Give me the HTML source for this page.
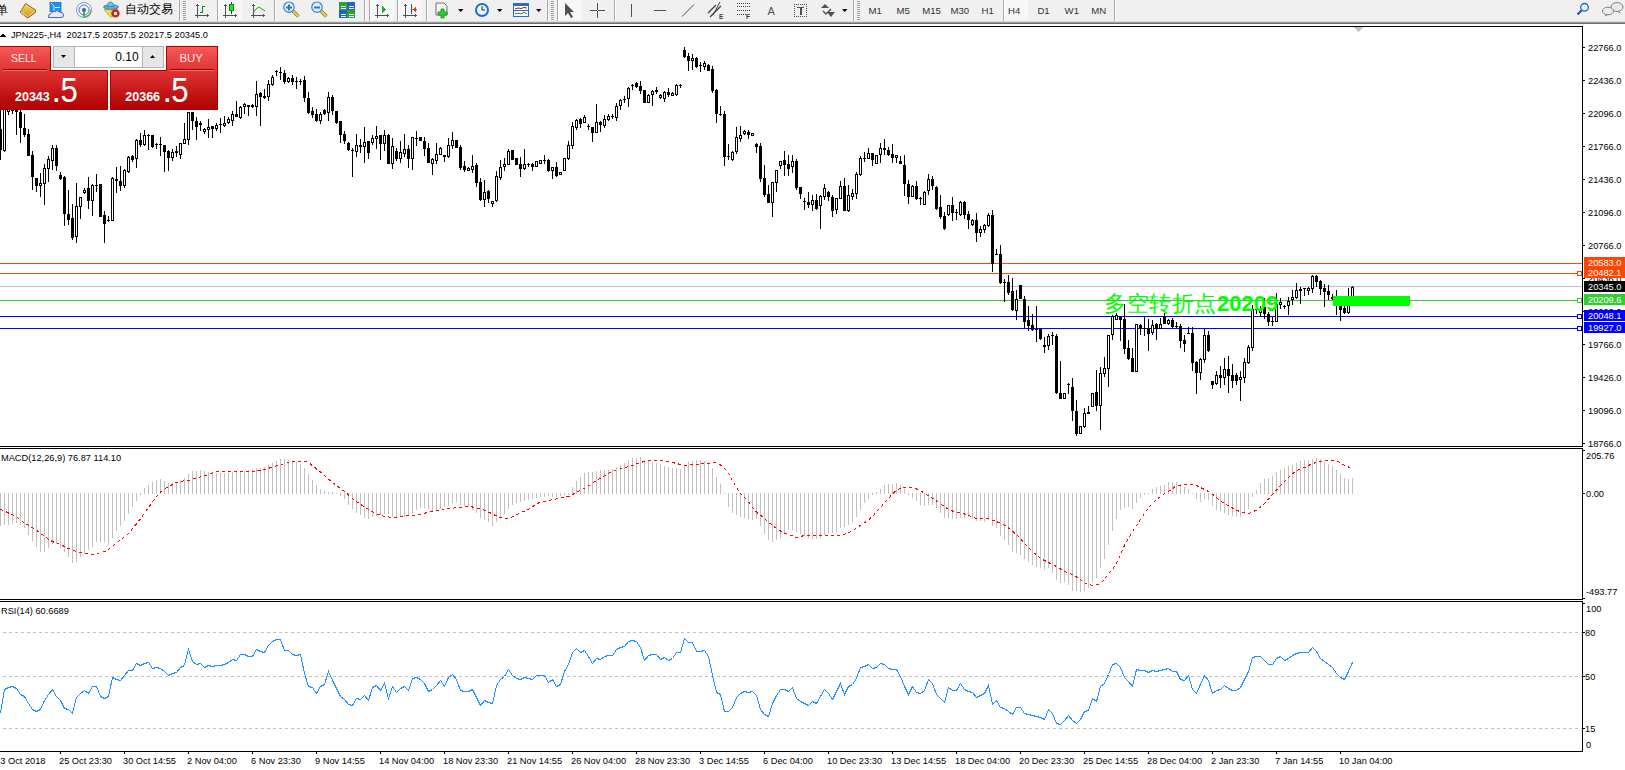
<!DOCTYPE html><html><head><meta charset="utf-8"><style>
html,body{margin:0;padding:0;width:1625px;height:770px;overflow:hidden;background:#fff;}
body{position:relative;font-family:"Liberation Sans", sans-serif;}
.t{position:absolute;white-space:nowrap;font-size:9.5px;line-height:12px;color:#000;}
#tb{position:absolute;left:0;top:0;width:1625px;height:22px;background:#f0f0f0;}
svg{position:absolute;left:0;top:0;}
</style></head><body>

<svg width="1625" height="770" shape-rendering="crispEdges"><rect x="0" y="263" width="1582" height="1" fill="#ff4500"/><rect x="0" y="273" width="1582" height="1" fill="#ff4500"/><rect x="0" y="286" width="1582" height="1" fill="#c0c0c0"/><rect x="0" y="300" width="1582" height="1" fill="#32cd32"/><rect x="0" y="316" width="1582" height="1" fill="#0000ff"/><rect x="0" y="328" width="1582" height="1" fill="#0000ff"/><rect x="0" y="105" width="1" height="55" fill="#000"/><rect x="-1" y="129" width="3" height="21" fill="#000"/><rect x="4" y="105" width="1" height="47" fill="#000"/><rect x="3" y="105" width="3" height="46" fill="#000"/><rect x="4" y="106" width="1" height="44" fill="#fff"/><rect x="8" y="105" width="1" height="10" fill="#000"/><rect x="7" y="105" width="3" height="7" fill="#000"/><rect x="8" y="106" width="1" height="5" fill="#fff"/><rect x="12" y="105" width="1" height="9" fill="#000"/><rect x="11" y="105" width="3" height="6" fill="#000"/><rect x="16" y="105" width="1" height="30" fill="#000"/><rect x="15" y="105" width="3" height="7" fill="#000"/><rect x="20" y="105" width="1" height="38" fill="#000"/><rect x="19" y="112" width="3" height="16" fill="#000"/><rect x="24" y="114" width="1" height="23" fill="#000"/><rect x="23" y="128" width="3" height="7" fill="#000"/><rect x="28" y="129" width="1" height="27" fill="#000"/><rect x="27" y="134" width="3" height="22" fill="#000"/><rect x="32" y="151" width="1" height="39" fill="#000"/><rect x="31" y="155" width="3" height="22" fill="#000"/><rect x="36" y="178" width="1" height="14" fill="#000"/><rect x="35" y="178" width="3" height="8" fill="#000"/><rect x="40" y="173" width="1" height="24" fill="#000"/><rect x="39" y="183" width="3" height="3" fill="#000"/><rect x="40" y="184" width="1" height="1" fill="#fff"/><rect x="44" y="164" width="1" height="41" fill="#000"/><rect x="43" y="168" width="3" height="16" fill="#000"/><rect x="44" y="169" width="1" height="14" fill="#fff"/><rect x="48" y="156" width="1" height="26" fill="#000"/><rect x="47" y="159" width="3" height="10" fill="#000"/><rect x="48" y="160" width="1" height="8" fill="#fff"/><rect x="52" y="145" width="1" height="25" fill="#000"/><rect x="51" y="148" width="3" height="13" fill="#000"/><rect x="52" y="149" width="1" height="11" fill="#fff"/><rect x="56" y="145" width="1" height="26" fill="#000"/><rect x="55" y="148" width="3" height="18" fill="#000"/><rect x="60" y="172" width="1" height="8" fill="#000"/><rect x="59" y="175" width="3" height="4" fill="#000"/><rect x="64" y="176" width="1" height="50" fill="#000"/><rect x="63" y="177" width="3" height="37" fill="#000"/><rect x="68" y="190" width="1" height="35" fill="#000"/><rect x="67" y="214" width="3" height="6" fill="#000"/><rect x="72" y="204" width="1" height="36" fill="#000"/><rect x="71" y="218" width="3" height="20" fill="#000"/><rect x="76" y="183" width="1" height="60" fill="#000"/><rect x="75" y="206" width="3" height="31" fill="#000"/><rect x="76" y="207" width="1" height="29" fill="#fff"/><rect x="80" y="197" width="1" height="22" fill="#000"/><rect x="79" y="197" width="3" height="10" fill="#000"/><rect x="80" y="198" width="1" height="8" fill="#fff"/><rect x="84" y="188" width="1" height="6" fill="#000"/><rect x="83" y="190" width="3" height="3" fill="#000"/><rect x="84" y="191" width="1" height="1" fill="#fff"/><rect x="88" y="177" width="1" height="32" fill="#000"/><rect x="87" y="188" width="3" height="13" fill="#000"/><rect x="92" y="184" width="1" height="32" fill="#000"/><rect x="91" y="185" width="3" height="16" fill="#000"/><rect x="92" y="186" width="1" height="14" fill="#fff"/><rect x="96" y="174" width="1" height="18" fill="#000"/><rect x="95" y="185" width="3" height="1" fill="#000"/><rect x="100" y="184" width="1" height="33" fill="#000"/><rect x="99" y="184" width="3" height="33" fill="#000"/><rect x="104" y="211" width="1" height="32" fill="#000"/><rect x="103" y="215" width="3" height="9" fill="#000"/><rect x="108" y="216" width="1" height="6" fill="#000"/><rect x="107" y="220" width="3" height="1" fill="#000"/><rect x="112" y="177" width="1" height="44" fill="#000"/><rect x="111" y="178" width="3" height="43" fill="#000"/><rect x="112" y="179" width="1" height="41" fill="#fff"/><rect x="116" y="167" width="1" height="26" fill="#000"/><rect x="115" y="179" width="3" height="2" fill="#000"/><rect x="120" y="166" width="1" height="25" fill="#000"/><rect x="119" y="181" width="3" height="5" fill="#000"/><rect x="124" y="169" width="1" height="19" fill="#000"/><rect x="123" y="170" width="3" height="16" fill="#000"/><rect x="124" y="171" width="1" height="14" fill="#fff"/><rect x="128" y="156" width="1" height="17" fill="#000"/><rect x="127" y="157" width="3" height="15" fill="#000"/><rect x="128" y="158" width="1" height="13" fill="#fff"/><rect x="132" y="155" width="1" height="7" fill="#000"/><rect x="131" y="156" width="3" height="4" fill="#000"/><rect x="136" y="139" width="1" height="29" fill="#000"/><rect x="135" y="140" width="3" height="19" fill="#000"/><rect x="136" y="141" width="1" height="17" fill="#fff"/><rect x="140" y="133" width="1" height="14" fill="#000"/><rect x="139" y="140" width="3" height="5" fill="#000"/><rect x="144" y="130" width="1" height="16" fill="#000"/><rect x="143" y="135" width="3" height="10" fill="#000"/><rect x="144" y="136" width="1" height="8" fill="#fff"/><rect x="148" y="134" width="1" height="16" fill="#000"/><rect x="147" y="135" width="3" height="1" fill="#000"/><rect x="152" y="135" width="1" height="13" fill="#000"/><rect x="151" y="135" width="3" height="12" fill="#000"/><rect x="156" y="143" width="1" height="6" fill="#000"/><rect x="155" y="144" width="3" height="1" fill="#000"/><rect x="160" y="137" width="1" height="19" fill="#000"/><rect x="159" y="144" width="3" height="1" fill="#000"/><rect x="164" y="145" width="1" height="27" fill="#000"/><rect x="163" y="145" width="3" height="7" fill="#000"/><rect x="168" y="150" width="1" height="21" fill="#000"/><rect x="167" y="151" width="3" height="7" fill="#000"/><rect x="172" y="149" width="1" height="12" fill="#000"/><rect x="171" y="152" width="3" height="6" fill="#000"/><rect x="172" y="153" width="1" height="4" fill="#fff"/><rect x="176" y="146" width="1" height="11" fill="#000"/><rect x="175" y="151" width="3" height="2" fill="#000"/><rect x="180" y="143" width="1" height="16" fill="#000"/><rect x="179" y="143" width="3" height="12" fill="#000"/><rect x="180" y="144" width="1" height="10" fill="#fff"/><rect x="184" y="123" width="1" height="21" fill="#000"/><rect x="183" y="139" width="3" height="5" fill="#000"/><rect x="184" y="140" width="1" height="3" fill="#fff"/><rect x="188" y="112" width="1" height="33" fill="#000"/><rect x="187" y="112" width="3" height="28" fill="#000"/><rect x="188" y="113" width="1" height="26" fill="#fff"/><rect x="192" y="112" width="1" height="18" fill="#000"/><rect x="191" y="112" width="3" height="9" fill="#000"/><rect x="196" y="117" width="1" height="23" fill="#000"/><rect x="195" y="121" width="3" height="6" fill="#000"/><rect x="200" y="121" width="1" height="10" fill="#000"/><rect x="199" y="123" width="3" height="2" fill="#000"/><rect x="204" y="128" width="1" height="6" fill="#000"/><rect x="203" y="129" width="3" height="3" fill="#000"/><rect x="204" y="130" width="1" height="1" fill="#fff"/><rect x="208" y="119" width="1" height="19" fill="#000"/><rect x="207" y="127" width="3" height="3" fill="#000"/><rect x="208" y="128" width="1" height="1" fill="#fff"/><rect x="212" y="126" width="1" height="12" fill="#000"/><rect x="211" y="126" width="3" height="3" fill="#000"/><rect x="216" y="123" width="1" height="8" fill="#000"/><rect x="215" y="125" width="3" height="4" fill="#000"/><rect x="216" y="126" width="1" height="2" fill="#fff"/><rect x="220" y="118" width="1" height="15" fill="#000"/><rect x="219" y="124" width="3" height="1" fill="#000"/><rect x="224" y="116" width="1" height="11" fill="#000"/><rect x="223" y="123" width="3" height="3" fill="#000"/><rect x="224" y="124" width="1" height="1" fill="#fff"/><rect x="228" y="117" width="1" height="7" fill="#000"/><rect x="227" y="119" width="3" height="4" fill="#000"/><rect x="228" y="120" width="1" height="2" fill="#fff"/><rect x="232" y="111" width="1" height="15" fill="#000"/><rect x="231" y="114" width="3" height="7" fill="#000"/><rect x="232" y="115" width="1" height="5" fill="#fff"/><rect x="236" y="101" width="1" height="16" fill="#000"/><rect x="235" y="114" width="3" height="3" fill="#000"/><rect x="240" y="106" width="1" height="13" fill="#000"/><rect x="239" y="107" width="3" height="11" fill="#000"/><rect x="240" y="108" width="1" height="9" fill="#fff"/><rect x="244" y="103" width="1" height="11" fill="#000"/><rect x="243" y="104" width="3" height="3" fill="#000"/><rect x="244" y="105" width="1" height="1" fill="#fff"/><rect x="248" y="105" width="1" height="11" fill="#000"/><rect x="247" y="105" width="3" height="2" fill="#000"/><rect x="252" y="104" width="1" height="4" fill="#000"/><rect x="251" y="105" width="3" height="2" fill="#000"/><rect x="256" y="81" width="1" height="35" fill="#000"/><rect x="255" y="94" width="3" height="13" fill="#000"/><rect x="256" y="95" width="1" height="11" fill="#fff"/><rect x="260" y="92" width="1" height="34" fill="#000"/><rect x="259" y="93" width="3" height="4" fill="#000"/><rect x="264" y="89" width="1" height="10" fill="#000"/><rect x="263" y="96" width="3" height="2" fill="#000"/><rect x="268" y="80" width="1" height="21" fill="#000"/><rect x="267" y="84" width="3" height="13" fill="#000"/><rect x="268" y="85" width="1" height="11" fill="#fff"/><rect x="272" y="75" width="1" height="11" fill="#000"/><rect x="271" y="77" width="3" height="8" fill="#000"/><rect x="272" y="78" width="1" height="6" fill="#fff"/><rect x="276" y="70" width="1" height="6" fill="#000"/><rect x="275" y="71" width="3" height="1" fill="#000"/><rect x="280" y="67" width="1" height="13" fill="#000"/><rect x="279" y="72" width="3" height="1" fill="#000"/><rect x="284" y="70" width="1" height="14" fill="#000"/><rect x="283" y="73" width="3" height="9" fill="#000"/><rect x="288" y="77" width="1" height="6" fill="#000"/><rect x="287" y="78" width="3" height="4" fill="#000"/><rect x="288" y="79" width="1" height="2" fill="#fff"/><rect x="292" y="75" width="1" height="10" fill="#000"/><rect x="291" y="78" width="3" height="4" fill="#000"/><rect x="296" y="77" width="1" height="12" fill="#000"/><rect x="295" y="81" width="3" height="1" fill="#000"/><rect x="300" y="79" width="1" height="6" fill="#000"/><rect x="299" y="81" width="3" height="1" fill="#000"/><rect x="304" y="76" width="1" height="26" fill="#000"/><rect x="303" y="80" width="3" height="18" fill="#000"/><rect x="308" y="92" width="1" height="22" fill="#000"/><rect x="307" y="98" width="3" height="15" fill="#000"/><rect x="312" y="107" width="1" height="11" fill="#000"/><rect x="311" y="111" width="3" height="4" fill="#000"/><rect x="316" y="109" width="1" height="13" fill="#000"/><rect x="315" y="114" width="3" height="7" fill="#000"/><rect x="320" y="112" width="1" height="12" fill="#000"/><rect x="319" y="114" width="3" height="7" fill="#000"/><rect x="320" y="115" width="1" height="5" fill="#fff"/><rect x="324" y="109" width="1" height="6" fill="#000"/><rect x="323" y="110" width="3" height="4" fill="#000"/><rect x="328" y="92" width="1" height="29" fill="#000"/><rect x="327" y="97" width="3" height="16" fill="#000"/><rect x="328" y="98" width="1" height="14" fill="#fff"/><rect x="332" y="95" width="1" height="20" fill="#000"/><rect x="331" y="97" width="3" height="14" fill="#000"/><rect x="336" y="111" width="1" height="13" fill="#000"/><rect x="335" y="111" width="3" height="12" fill="#000"/><rect x="340" y="121" width="1" height="22" fill="#000"/><rect x="339" y="121" width="3" height="14" fill="#000"/><rect x="344" y="131" width="1" height="13" fill="#000"/><rect x="343" y="134" width="3" height="7" fill="#000"/><rect x="348" y="142" width="1" height="9" fill="#000"/><rect x="347" y="143" width="3" height="7" fill="#000"/><rect x="352" y="148" width="1" height="29" fill="#000"/><rect x="351" y="150" width="3" height="1" fill="#000"/><rect x="356" y="134" width="1" height="23" fill="#000"/><rect x="355" y="145" width="3" height="7" fill="#000"/><rect x="356" y="146" width="1" height="5" fill="#fff"/><rect x="360" y="139" width="1" height="14" fill="#000"/><rect x="359" y="145" width="3" height="2" fill="#000"/><rect x="364" y="127" width="1" height="36" fill="#000"/><rect x="363" y="142" width="3" height="5" fill="#000"/><rect x="364" y="143" width="1" height="3" fill="#fff"/><rect x="368" y="141" width="1" height="18" fill="#000"/><rect x="367" y="141" width="3" height="12" fill="#000"/><rect x="372" y="135" width="1" height="10" fill="#000"/><rect x="371" y="138" width="3" height="5" fill="#000"/><rect x="372" y="139" width="1" height="3" fill="#fff"/><rect x="376" y="126" width="1" height="23" fill="#000"/><rect x="375" y="136" width="3" height="3" fill="#000"/><rect x="376" y="137" width="1" height="1" fill="#fff"/><rect x="380" y="135" width="1" height="25" fill="#000"/><rect x="379" y="135" width="3" height="9" fill="#000"/><rect x="384" y="130" width="1" height="21" fill="#000"/><rect x="383" y="135" width="3" height="9" fill="#000"/><rect x="384" y="136" width="1" height="7" fill="#fff"/><rect x="388" y="134" width="1" height="30" fill="#000"/><rect x="387" y="135" width="3" height="29" fill="#000"/><rect x="392" y="138" width="1" height="31" fill="#000"/><rect x="391" y="146" width="3" height="18" fill="#000"/><rect x="392" y="147" width="1" height="16" fill="#fff"/><rect x="396" y="148" width="1" height="13" fill="#000"/><rect x="395" y="151" width="3" height="8" fill="#000"/><rect x="400" y="141" width="1" height="22" fill="#000"/><rect x="399" y="152" width="3" height="7" fill="#000"/><rect x="400" y="153" width="1" height="5" fill="#fff"/><rect x="404" y="134" width="1" height="23" fill="#000"/><rect x="403" y="149" width="3" height="5" fill="#000"/><rect x="404" y="150" width="1" height="3" fill="#fff"/><rect x="408" y="145" width="1" height="23" fill="#000"/><rect x="407" y="149" width="3" height="10" fill="#000"/><rect x="412" y="137" width="1" height="33" fill="#000"/><rect x="411" y="137" width="3" height="22" fill="#000"/><rect x="412" y="138" width="1" height="20" fill="#fff"/><rect x="416" y="131" width="1" height="15" fill="#000"/><rect x="415" y="138" width="3" height="1" fill="#000"/><rect x="420" y="137" width="1" height="4" fill="#000"/><rect x="419" y="137" width="3" height="4" fill="#000"/><rect x="424" y="137" width="1" height="19" fill="#000"/><rect x="423" y="141" width="3" height="8" fill="#000"/><rect x="428" y="143" width="1" height="20" fill="#000"/><rect x="427" y="148" width="3" height="15" fill="#000"/><rect x="432" y="158" width="1" height="17" fill="#000"/><rect x="431" y="159" width="3" height="5" fill="#000"/><rect x="432" y="160" width="1" height="3" fill="#fff"/><rect x="436" y="143" width="1" height="21" fill="#000"/><rect x="435" y="154" width="3" height="7" fill="#000"/><rect x="436" y="155" width="1" height="5" fill="#fff"/><rect x="440" y="147" width="1" height="8" fill="#000"/><rect x="439" y="148" width="3" height="7" fill="#000"/><rect x="440" y="149" width="1" height="5" fill="#fff"/><rect x="444" y="155" width="1" height="7" fill="#000"/><rect x="443" y="155" width="3" height="2" fill="#000"/><rect x="448" y="138" width="1" height="20" fill="#000"/><rect x="447" y="145" width="3" height="12" fill="#000"/><rect x="448" y="146" width="1" height="10" fill="#fff"/><rect x="452" y="132" width="1" height="17" fill="#000"/><rect x="451" y="140" width="3" height="6" fill="#000"/><rect x="452" y="141" width="1" height="4" fill="#fff"/><rect x="456" y="140" width="1" height="8" fill="#000"/><rect x="455" y="140" width="3" height="8" fill="#000"/><rect x="460" y="145" width="1" height="25" fill="#000"/><rect x="459" y="147" width="3" height="21" fill="#000"/><rect x="464" y="161" width="1" height="11" fill="#000"/><rect x="463" y="166" width="3" height="4" fill="#000"/><rect x="468" y="167" width="1" height="4" fill="#000"/><rect x="467" y="168" width="3" height="3" fill="#000"/><rect x="468" y="169" width="1" height="1" fill="#fff"/><rect x="472" y="155" width="1" height="18" fill="#000"/><rect x="471" y="166" width="3" height="4" fill="#000"/><rect x="472" y="167" width="1" height="2" fill="#fff"/><rect x="476" y="163" width="1" height="24" fill="#000"/><rect x="475" y="165" width="3" height="18" fill="#000"/><rect x="480" y="178" width="1" height="23" fill="#000"/><rect x="479" y="182" width="3" height="18" fill="#000"/><rect x="484" y="180" width="1" height="27" fill="#000"/><rect x="483" y="192" width="3" height="8" fill="#000"/><rect x="484" y="193" width="1" height="6" fill="#fff"/><rect x="488" y="190" width="1" height="13" fill="#000"/><rect x="487" y="191" width="3" height="8" fill="#000"/><rect x="492" y="201" width="1" height="6" fill="#000"/><rect x="491" y="201" width="3" height="3" fill="#000"/><rect x="492" y="202" width="1" height="1" fill="#fff"/><rect x="496" y="171" width="1" height="31" fill="#000"/><rect x="495" y="176" width="3" height="25" fill="#000"/><rect x="496" y="177" width="1" height="23" fill="#fff"/><rect x="500" y="160" width="1" height="20" fill="#000"/><rect x="499" y="167" width="3" height="11" fill="#000"/><rect x="500" y="168" width="1" height="9" fill="#fff"/><rect x="504" y="158" width="1" height="13" fill="#000"/><rect x="503" y="164" width="3" height="3" fill="#000"/><rect x="504" y="165" width="1" height="1" fill="#fff"/><rect x="508" y="149" width="1" height="16" fill="#000"/><rect x="507" y="151" width="3" height="14" fill="#000"/><rect x="508" y="152" width="1" height="12" fill="#fff"/><rect x="512" y="150" width="1" height="10" fill="#000"/><rect x="511" y="150" width="3" height="10" fill="#000"/><rect x="516" y="158" width="1" height="7" fill="#000"/><rect x="515" y="158" width="3" height="7" fill="#000"/><rect x="520" y="157" width="1" height="20" fill="#000"/><rect x="519" y="164" width="3" height="5" fill="#000"/><rect x="524" y="149" width="1" height="21" fill="#000"/><rect x="523" y="164" width="3" height="5" fill="#000"/><rect x="524" y="165" width="1" height="3" fill="#fff"/><rect x="528" y="163" width="1" height="4" fill="#000"/><rect x="527" y="164" width="3" height="1" fill="#000"/><rect x="532" y="163" width="1" height="8" fill="#000"/><rect x="531" y="164" width="3" height="3" fill="#000"/><rect x="536" y="161" width="1" height="6" fill="#000"/><rect x="535" y="161" width="3" height="6" fill="#000"/><rect x="536" y="162" width="1" height="4" fill="#fff"/><rect x="540" y="160" width="1" height="4" fill="#000"/><rect x="539" y="160" width="3" height="4" fill="#000"/><rect x="540" y="161" width="1" height="2" fill="#fff"/><rect x="544" y="155" width="1" height="9" fill="#000"/><rect x="543" y="160" width="3" height="1" fill="#000"/><rect x="548" y="159" width="1" height="13" fill="#000"/><rect x="547" y="160" width="3" height="11" fill="#000"/><rect x="552" y="167" width="1" height="12" fill="#000"/><rect x="551" y="167" width="3" height="4" fill="#000"/><rect x="552" y="168" width="1" height="2" fill="#fff"/><rect x="556" y="162" width="1" height="15" fill="#000"/><rect x="555" y="167" width="3" height="9" fill="#000"/><rect x="560" y="172" width="1" height="3" fill="#000"/><rect x="559" y="172" width="3" height="3" fill="#000"/><rect x="560" y="173" width="1" height="1" fill="#fff"/><rect x="564" y="158" width="1" height="13" fill="#000"/><rect x="563" y="158" width="3" height="13" fill="#000"/><rect x="564" y="159" width="1" height="11" fill="#fff"/><rect x="568" y="141" width="1" height="19" fill="#000"/><rect x="567" y="145" width="3" height="14" fill="#000"/><rect x="568" y="146" width="1" height="12" fill="#fff"/><rect x="572" y="122" width="1" height="27" fill="#000"/><rect x="571" y="126" width="3" height="20" fill="#000"/><rect x="572" y="127" width="1" height="18" fill="#fff"/><rect x="576" y="119" width="1" height="11" fill="#000"/><rect x="575" y="120" width="3" height="8" fill="#000"/><rect x="576" y="121" width="1" height="6" fill="#fff"/><rect x="580" y="118" width="1" height="10" fill="#000"/><rect x="579" y="119" width="3" height="5" fill="#000"/><rect x="584" y="115" width="1" height="8" fill="#000"/><rect x="583" y="117" width="3" height="6" fill="#000"/><rect x="584" y="118" width="1" height="4" fill="#fff"/><rect x="588" y="124" width="1" height="6" fill="#000"/><rect x="587" y="126" width="3" height="1" fill="#000"/><rect x="592" y="127" width="1" height="15" fill="#000"/><rect x="591" y="127" width="3" height="6" fill="#000"/><rect x="596" y="104" width="1" height="29" fill="#000"/><rect x="595" y="122" width="3" height="11" fill="#000"/><rect x="596" y="123" width="1" height="9" fill="#fff"/><rect x="600" y="121" width="1" height="11" fill="#000"/><rect x="599" y="122" width="3" height="3" fill="#000"/><rect x="604" y="115" width="1" height="13" fill="#000"/><rect x="603" y="119" width="3" height="7" fill="#000"/><rect x="604" y="120" width="1" height="5" fill="#fff"/><rect x="608" y="114" width="1" height="7" fill="#000"/><rect x="607" y="116" width="3" height="4" fill="#000"/><rect x="608" y="117" width="1" height="2" fill="#fff"/><rect x="612" y="114" width="1" height="5" fill="#000"/><rect x="611" y="116" width="3" height="1" fill="#000"/><rect x="616" y="103" width="1" height="18" fill="#000"/><rect x="615" y="106" width="3" height="12" fill="#000"/><rect x="616" y="107" width="1" height="10" fill="#fff"/><rect x="620" y="99" width="1" height="11" fill="#000"/><rect x="619" y="100" width="3" height="6" fill="#000"/><rect x="620" y="101" width="1" height="4" fill="#fff"/><rect x="624" y="96" width="1" height="7" fill="#000"/><rect x="623" y="99" width="3" height="1" fill="#000"/><rect x="628" y="87" width="1" height="20" fill="#000"/><rect x="627" y="88" width="3" height="11" fill="#000"/><rect x="628" y="89" width="1" height="9" fill="#fff"/><rect x="632" y="84" width="1" height="6" fill="#000"/><rect x="631" y="85" width="3" height="1" fill="#000"/><rect x="636" y="82" width="1" height="6" fill="#000"/><rect x="635" y="83" width="3" height="4" fill="#000"/><rect x="640" y="81" width="1" height="13" fill="#000"/><rect x="639" y="86" width="3" height="5" fill="#000"/><rect x="644" y="90" width="1" height="13" fill="#000"/><rect x="643" y="90" width="3" height="13" fill="#000"/><rect x="648" y="94" width="1" height="9" fill="#000"/><rect x="647" y="95" width="3" height="8" fill="#000"/><rect x="648" y="96" width="1" height="6" fill="#fff"/><rect x="652" y="90" width="1" height="16" fill="#000"/><rect x="651" y="91" width="3" height="4" fill="#000"/><rect x="652" y="92" width="1" height="2" fill="#fff"/><rect x="656" y="87" width="1" height="7" fill="#000"/><rect x="655" y="90" width="3" height="2" fill="#000"/><rect x="660" y="94" width="1" height="5" fill="#000"/><rect x="659" y="95" width="3" height="3" fill="#000"/><rect x="660" y="96" width="1" height="1" fill="#fff"/><rect x="664" y="91" width="1" height="11" fill="#000"/><rect x="663" y="92" width="3" height="7" fill="#000"/><rect x="664" y="93" width="1" height="5" fill="#fff"/><rect x="668" y="88" width="1" height="9" fill="#000"/><rect x="667" y="92" width="3" height="3" fill="#000"/><rect x="672" y="92" width="1" height="4" fill="#000"/><rect x="671" y="93" width="3" height="3" fill="#000"/><rect x="672" y="94" width="1" height="1" fill="#fff"/><rect x="676" y="84" width="1" height="12" fill="#000"/><rect x="675" y="85" width="3" height="10" fill="#000"/><rect x="676" y="86" width="1" height="8" fill="#fff"/><rect x="680" y="84" width="1" height="4" fill="#000"/><rect x="679" y="85" width="3" height="1" fill="#000"/><rect x="684" y="47" width="1" height="11" fill="#000"/><rect x="683" y="50" width="3" height="7" fill="#000"/><rect x="688" y="53" width="1" height="18" fill="#000"/><rect x="687" y="56" width="3" height="5" fill="#000"/><rect x="692" y="54" width="1" height="16" fill="#000"/><rect x="691" y="58" width="3" height="3" fill="#000"/><rect x="692" y="59" width="1" height="1" fill="#fff"/><rect x="696" y="57" width="1" height="11" fill="#000"/><rect x="695" y="58" width="3" height="9" fill="#000"/><rect x="700" y="62" width="1" height="10" fill="#000"/><rect x="699" y="65" width="3" height="1" fill="#000"/><rect x="704" y="61" width="1" height="9" fill="#000"/><rect x="703" y="63" width="3" height="4" fill="#000"/><rect x="704" y="64" width="1" height="2" fill="#fff"/><rect x="708" y="64" width="1" height="7" fill="#000"/><rect x="707" y="65" width="3" height="6" fill="#000"/><rect x="712" y="66" width="1" height="27" fill="#000"/><rect x="711" y="69" width="3" height="22" fill="#000"/><rect x="716" y="89" width="1" height="34" fill="#000"/><rect x="715" y="90" width="3" height="24" fill="#000"/><rect x="720" y="106" width="1" height="10" fill="#000"/><rect x="719" y="114" width="3" height="1" fill="#000"/><rect x="724" y="111" width="1" height="55" fill="#000"/><rect x="723" y="114" width="3" height="43" fill="#000"/><rect x="728" y="144" width="1" height="16" fill="#000"/><rect x="727" y="156" width="3" height="1" fill="#000"/><rect x="732" y="151" width="1" height="10" fill="#000"/><rect x="731" y="152" width="3" height="8" fill="#000"/><rect x="732" y="153" width="1" height="6" fill="#fff"/><rect x="736" y="127" width="1" height="27" fill="#000"/><rect x="735" y="137" width="3" height="15" fill="#000"/><rect x="736" y="138" width="1" height="13" fill="#fff"/><rect x="740" y="126" width="1" height="16" fill="#000"/><rect x="739" y="135" width="3" height="4" fill="#000"/><rect x="740" y="136" width="1" height="2" fill="#fff"/><rect x="744" y="130" width="1" height="5" fill="#000"/><rect x="743" y="131" width="3" height="3" fill="#000"/><rect x="744" y="132" width="1" height="1" fill="#fff"/><rect x="748" y="130" width="1" height="9" fill="#000"/><rect x="747" y="132" width="3" height="3" fill="#000"/><rect x="752" y="133" width="1" height="3" fill="#000"/><rect x="751" y="133" width="3" height="3" fill="#000"/><rect x="752" y="134" width="1" height="1" fill="#fff"/><rect x="756" y="143" width="1" height="10" fill="#000"/><rect x="755" y="144" width="3" height="3" fill="#000"/><rect x="760" y="143" width="1" height="39" fill="#000"/><rect x="759" y="146" width="3" height="33" fill="#000"/><rect x="764" y="165" width="1" height="32" fill="#000"/><rect x="763" y="178" width="3" height="17" fill="#000"/><rect x="768" y="185" width="1" height="18" fill="#000"/><rect x="767" y="194" width="3" height="9" fill="#000"/><rect x="772" y="182" width="1" height="35" fill="#000"/><rect x="771" y="182" width="3" height="21" fill="#000"/><rect x="772" y="183" width="1" height="19" fill="#fff"/><rect x="776" y="170" width="1" height="22" fill="#000"/><rect x="775" y="170" width="3" height="13" fill="#000"/><rect x="776" y="171" width="1" height="11" fill="#fff"/><rect x="780" y="161" width="1" height="8" fill="#000"/><rect x="779" y="161" width="3" height="5" fill="#000"/><rect x="780" y="162" width="1" height="3" fill="#fff"/><rect x="784" y="151" width="1" height="25" fill="#000"/><rect x="783" y="160" width="3" height="5" fill="#000"/><rect x="788" y="155" width="1" height="21" fill="#000"/><rect x="787" y="164" width="3" height="5" fill="#000"/><rect x="792" y="155" width="1" height="18" fill="#000"/><rect x="791" y="161" width="3" height="6" fill="#000"/><rect x="792" y="162" width="1" height="4" fill="#fff"/><rect x="796" y="159" width="1" height="31" fill="#000"/><rect x="795" y="161" width="3" height="27" fill="#000"/><rect x="800" y="187" width="1" height="12" fill="#000"/><rect x="799" y="187" width="3" height="7" fill="#000"/><rect x="804" y="198" width="1" height="12" fill="#000"/><rect x="803" y="201" width="3" height="1" fill="#000"/><rect x="808" y="192" width="1" height="16" fill="#000"/><rect x="807" y="202" width="3" height="3" fill="#000"/><rect x="812" y="195" width="1" height="16" fill="#000"/><rect x="811" y="200" width="3" height="5" fill="#000"/><rect x="812" y="201" width="1" height="3" fill="#fff"/><rect x="816" y="194" width="1" height="16" fill="#000"/><rect x="815" y="200" width="3" height="9" fill="#000"/><rect x="820" y="195" width="1" height="34" fill="#000"/><rect x="819" y="196" width="3" height="10" fill="#000"/><rect x="820" y="197" width="1" height="8" fill="#fff"/><rect x="824" y="184" width="1" height="16" fill="#000"/><rect x="823" y="188" width="3" height="9" fill="#000"/><rect x="824" y="189" width="1" height="7" fill="#fff"/><rect x="828" y="191" width="1" height="10" fill="#000"/><rect x="827" y="192" width="3" height="5" fill="#000"/><rect x="832" y="195" width="1" height="22" fill="#000"/><rect x="831" y="197" width="3" height="14" fill="#000"/><rect x="836" y="198" width="1" height="16" fill="#000"/><rect x="835" y="198" width="3" height="12" fill="#000"/><rect x="836" y="199" width="1" height="10" fill="#fff"/><rect x="840" y="181" width="1" height="18" fill="#000"/><rect x="839" y="186" width="3" height="13" fill="#000"/><rect x="840" y="187" width="1" height="11" fill="#fff"/><rect x="844" y="178" width="1" height="33" fill="#000"/><rect x="843" y="186" width="3" height="25" fill="#000"/><rect x="848" y="185" width="1" height="27" fill="#000"/><rect x="847" y="195" width="3" height="16" fill="#000"/><rect x="848" y="196" width="1" height="14" fill="#fff"/><rect x="852" y="189" width="1" height="11" fill="#000"/><rect x="851" y="193" width="3" height="4" fill="#000"/><rect x="852" y="194" width="1" height="2" fill="#fff"/><rect x="856" y="172" width="1" height="27" fill="#000"/><rect x="855" y="174" width="3" height="20" fill="#000"/><rect x="856" y="175" width="1" height="18" fill="#fff"/><rect x="860" y="156" width="1" height="20" fill="#000"/><rect x="859" y="158" width="3" height="17" fill="#000"/><rect x="860" y="159" width="1" height="15" fill="#fff"/><rect x="864" y="152" width="1" height="10" fill="#000"/><rect x="863" y="158" width="3" height="1" fill="#000"/><rect x="868" y="148" width="1" height="11" fill="#000"/><rect x="867" y="153" width="3" height="6" fill="#000"/><rect x="868" y="154" width="1" height="4" fill="#fff"/><rect x="872" y="153" width="1" height="13" fill="#000"/><rect x="871" y="153" width="3" height="7" fill="#000"/><rect x="876" y="155" width="1" height="9" fill="#000"/><rect x="875" y="155" width="3" height="9" fill="#000"/><rect x="876" y="156" width="1" height="7" fill="#fff"/><rect x="880" y="143" width="1" height="20" fill="#000"/><rect x="879" y="148" width="3" height="7" fill="#000"/><rect x="880" y="149" width="1" height="5" fill="#fff"/><rect x="884" y="139" width="1" height="16" fill="#000"/><rect x="883" y="148" width="3" height="2" fill="#000"/><rect x="888" y="147" width="1" height="9" fill="#000"/><rect x="887" y="150" width="3" height="5" fill="#000"/><rect x="892" y="144" width="1" height="19" fill="#000"/><rect x="891" y="154" width="3" height="4" fill="#000"/><rect x="896" y="155" width="1" height="8" fill="#000"/><rect x="895" y="155" width="3" height="3" fill="#000"/><rect x="896" y="156" width="1" height="1" fill="#fff"/><rect x="900" y="156" width="1" height="8" fill="#000"/><rect x="899" y="161" width="3" height="3" fill="#000"/><rect x="904" y="155" width="1" height="41" fill="#000"/><rect x="903" y="165" width="3" height="19" fill="#000"/><rect x="908" y="180" width="1" height="24" fill="#000"/><rect x="907" y="184" width="3" height="13" fill="#000"/><rect x="912" y="185" width="1" height="12" fill="#000"/><rect x="911" y="186" width="3" height="11" fill="#000"/><rect x="912" y="187" width="1" height="9" fill="#fff"/><rect x="916" y="181" width="1" height="19" fill="#000"/><rect x="915" y="186" width="3" height="13" fill="#000"/><rect x="920" y="197" width="1" height="8" fill="#000"/><rect x="919" y="198" width="3" height="1" fill="#000"/><rect x="924" y="191" width="1" height="14" fill="#000"/><rect x="923" y="192" width="3" height="13" fill="#000"/><rect x="924" y="193" width="1" height="11" fill="#fff"/><rect x="928" y="174" width="1" height="21" fill="#000"/><rect x="927" y="179" width="3" height="12" fill="#000"/><rect x="928" y="180" width="1" height="10" fill="#fff"/><rect x="932" y="176" width="1" height="14" fill="#000"/><rect x="931" y="179" width="3" height="7" fill="#000"/><rect x="936" y="186" width="1" height="24" fill="#000"/><rect x="935" y="187" width="3" height="22" fill="#000"/><rect x="940" y="195" width="1" height="24" fill="#000"/><rect x="939" y="207" width="3" height="10" fill="#000"/><rect x="944" y="212" width="1" height="18" fill="#000"/><rect x="943" y="216" width="3" height="13" fill="#000"/><rect x="948" y="205" width="1" height="11" fill="#000"/><rect x="947" y="205" width="3" height="10" fill="#000"/><rect x="948" y="206" width="1" height="8" fill="#fff"/><rect x="952" y="197" width="1" height="24" fill="#000"/><rect x="951" y="205" width="3" height="8" fill="#000"/><rect x="956" y="209" width="1" height="11" fill="#000"/><rect x="955" y="212" width="3" height="1" fill="#000"/><rect x="960" y="201" width="1" height="15" fill="#000"/><rect x="959" y="202" width="3" height="13" fill="#000"/><rect x="960" y="203" width="1" height="11" fill="#fff"/><rect x="964" y="201" width="1" height="18" fill="#000"/><rect x="963" y="202" width="3" height="13" fill="#000"/><rect x="968" y="211" width="1" height="18" fill="#000"/><rect x="967" y="214" width="3" height="6" fill="#000"/><rect x="972" y="219" width="1" height="7" fill="#000"/><rect x="971" y="220" width="3" height="5" fill="#000"/><rect x="972" y="221" width="1" height="3" fill="#fff"/><rect x="976" y="213" width="1" height="29" fill="#000"/><rect x="975" y="220" width="3" height="13" fill="#000"/><rect x="980" y="226" width="1" height="11" fill="#000"/><rect x="979" y="229" width="3" height="4" fill="#000"/><rect x="980" y="230" width="1" height="2" fill="#fff"/><rect x="984" y="224" width="1" height="9" fill="#000"/><rect x="983" y="225" width="3" height="5" fill="#000"/><rect x="984" y="226" width="1" height="3" fill="#fff"/><rect x="988" y="213" width="1" height="14" fill="#000"/><rect x="987" y="215" width="3" height="11" fill="#000"/><rect x="988" y="216" width="1" height="9" fill="#fff"/><rect x="992" y="210" width="1" height="62" fill="#000"/><rect x="991" y="215" width="3" height="49" fill="#000"/><rect x="996" y="249" width="1" height="6" fill="#000"/><rect x="995" y="254" width="3" height="1" fill="#000"/><rect x="1000" y="245" width="1" height="39" fill="#000"/><rect x="999" y="254" width="3" height="29" fill="#000"/><rect x="1004" y="279" width="1" height="23" fill="#000"/><rect x="1003" y="282" width="3" height="1" fill="#000"/><rect x="1008" y="275" width="1" height="20" fill="#000"/><rect x="1007" y="282" width="3" height="11" fill="#000"/><rect x="1012" y="278" width="1" height="33" fill="#000"/><rect x="1011" y="291" width="3" height="19" fill="#000"/><rect x="1016" y="290" width="1" height="30" fill="#000"/><rect x="1015" y="299" width="3" height="12" fill="#000"/><rect x="1016" y="300" width="1" height="10" fill="#fff"/><rect x="1020" y="285" width="1" height="14" fill="#000"/><rect x="1019" y="285" width="3" height="14" fill="#000"/><rect x="1024" y="296" width="1" height="32" fill="#000"/><rect x="1023" y="299" width="3" height="23" fill="#000"/><rect x="1028" y="306" width="1" height="25" fill="#000"/><rect x="1027" y="320" width="3" height="6" fill="#000"/><rect x="1032" y="314" width="1" height="17" fill="#000"/><rect x="1031" y="325" width="3" height="5" fill="#000"/><rect x="1036" y="306" width="1" height="36" fill="#000"/><rect x="1035" y="329" width="3" height="1" fill="#000"/><rect x="1040" y="328" width="1" height="12" fill="#000"/><rect x="1039" y="329" width="3" height="10" fill="#000"/><rect x="1044" y="337" width="1" height="16" fill="#000"/><rect x="1043" y="345" width="3" height="2" fill="#000"/><rect x="1048" y="334" width="1" height="16" fill="#000"/><rect x="1047" y="336" width="3" height="10" fill="#000"/><rect x="1048" y="337" width="1" height="8" fill="#fff"/><rect x="1052" y="332" width="1" height="13" fill="#000"/><rect x="1051" y="335" width="3" height="1" fill="#000"/><rect x="1056" y="334" width="1" height="60" fill="#000"/><rect x="1055" y="336" width="3" height="57" fill="#000"/><rect x="1060" y="361" width="1" height="38" fill="#000"/><rect x="1059" y="393" width="3" height="6" fill="#000"/><rect x="1064" y="393" width="1" height="6" fill="#000"/><rect x="1063" y="393" width="3" height="6" fill="#000"/><rect x="1064" y="394" width="1" height="4" fill="#fff"/><rect x="1068" y="383" width="1" height="11" fill="#000"/><rect x="1067" y="384" width="3" height="1" fill="#000"/><rect x="1072" y="378" width="1" height="43" fill="#000"/><rect x="1071" y="387" width="3" height="24" fill="#000"/><rect x="1076" y="400" width="1" height="36" fill="#000"/><rect x="1075" y="411" width="3" height="23" fill="#000"/><rect x="1080" y="426" width="1" height="8" fill="#000"/><rect x="1079" y="426" width="3" height="8" fill="#000"/><rect x="1080" y="427" width="1" height="6" fill="#fff"/><rect x="1084" y="408" width="1" height="20" fill="#000"/><rect x="1083" y="413" width="3" height="14" fill="#000"/><rect x="1084" y="414" width="1" height="12" fill="#fff"/><rect x="1088" y="406" width="1" height="8" fill="#000"/><rect x="1087" y="412" width="3" height="2" fill="#000"/><rect x="1092" y="393" width="1" height="14" fill="#000"/><rect x="1091" y="393" width="3" height="14" fill="#000"/><rect x="1092" y="394" width="1" height="12" fill="#fff"/><rect x="1096" y="370" width="1" height="41" fill="#000"/><rect x="1095" y="392" width="3" height="14" fill="#000"/><rect x="1100" y="367" width="1" height="63" fill="#000"/><rect x="1099" y="373" width="3" height="33" fill="#000"/><rect x="1100" y="374" width="1" height="31" fill="#fff"/><rect x="1104" y="357" width="1" height="20" fill="#000"/><rect x="1103" y="368" width="3" height="6" fill="#000"/><rect x="1104" y="369" width="1" height="4" fill="#fff"/><rect x="1108" y="335" width="1" height="52" fill="#000"/><rect x="1107" y="335" width="3" height="34" fill="#000"/><rect x="1108" y="336" width="1" height="32" fill="#fff"/><rect x="1112" y="315" width="1" height="25" fill="#000"/><rect x="1111" y="316" width="3" height="19" fill="#000"/><rect x="1112" y="317" width="1" height="17" fill="#fff"/><rect x="1116" y="313" width="1" height="7" fill="#000"/><rect x="1115" y="315" width="3" height="5" fill="#000"/><rect x="1116" y="316" width="1" height="3" fill="#fff"/><rect x="1120" y="316" width="1" height="25" fill="#000"/><rect x="1119" y="317" width="3" height="3" fill="#000"/><rect x="1124" y="304" width="1" height="50" fill="#000"/><rect x="1123" y="319" width="3" height="30" fill="#000"/><rect x="1128" y="340" width="1" height="20" fill="#000"/><rect x="1127" y="348" width="3" height="11" fill="#000"/><rect x="1132" y="348" width="1" height="24" fill="#000"/><rect x="1131" y="358" width="3" height="14" fill="#000"/><rect x="1136" y="324" width="1" height="48" fill="#000"/><rect x="1135" y="324" width="3" height="48" fill="#000"/><rect x="1136" y="325" width="1" height="46" fill="#fff"/><rect x="1140" y="324" width="1" height="11" fill="#000"/><rect x="1139" y="325" width="3" height="3" fill="#000"/><rect x="1144" y="316" width="1" height="20" fill="#000"/><rect x="1143" y="328" width="3" height="1" fill="#000"/><rect x="1148" y="319" width="1" height="32" fill="#000"/><rect x="1147" y="328" width="3" height="6" fill="#000"/><rect x="1152" y="320" width="1" height="15" fill="#000"/><rect x="1151" y="325" width="3" height="8" fill="#000"/><rect x="1152" y="326" width="1" height="6" fill="#fff"/><rect x="1156" y="323" width="1" height="17" fill="#000"/><rect x="1155" y="324" width="3" height="5" fill="#000"/><rect x="1160" y="318" width="1" height="11" fill="#000"/><rect x="1159" y="324" width="3" height="5" fill="#000"/><rect x="1160" y="325" width="1" height="3" fill="#fff"/><rect x="1164" y="313" width="1" height="11" fill="#000"/><rect x="1163" y="316" width="3" height="8" fill="#000"/><rect x="1168" y="319" width="1" height="6" fill="#000"/><rect x="1167" y="320" width="3" height="4" fill="#000"/><rect x="1168" y="321" width="1" height="2" fill="#fff"/><rect x="1172" y="318" width="1" height="10" fill="#000"/><rect x="1171" y="320" width="3" height="7" fill="#000"/><rect x="1176" y="322" width="1" height="6" fill="#000"/><rect x="1175" y="326" width="3" height="1" fill="#000"/><rect x="1180" y="324" width="1" height="24" fill="#000"/><rect x="1179" y="326" width="3" height="15" fill="#000"/><rect x="1184" y="335" width="1" height="17" fill="#000"/><rect x="1183" y="340" width="3" height="4" fill="#000"/><rect x="1188" y="327" width="1" height="7" fill="#000"/><rect x="1187" y="333" width="3" height="1" fill="#000"/><rect x="1192" y="327" width="1" height="44" fill="#000"/><rect x="1191" y="333" width="3" height="30" fill="#000"/><rect x="1196" y="361" width="1" height="33" fill="#000"/><rect x="1195" y="362" width="3" height="11" fill="#000"/><rect x="1200" y="358" width="1" height="22" fill="#000"/><rect x="1199" y="359" width="3" height="14" fill="#000"/><rect x="1200" y="360" width="1" height="12" fill="#fff"/><rect x="1204" y="329" width="1" height="34" fill="#000"/><rect x="1203" y="335" width="3" height="25" fill="#000"/><rect x="1204" y="336" width="1" height="23" fill="#fff"/><rect x="1208" y="331" width="1" height="21" fill="#000"/><rect x="1207" y="335" width="3" height="16" fill="#000"/><rect x="1212" y="381" width="1" height="8" fill="#000"/><rect x="1211" y="381" width="3" height="4" fill="#000"/><rect x="1216" y="371" width="1" height="14" fill="#000"/><rect x="1215" y="375" width="3" height="9" fill="#000"/><rect x="1216" y="376" width="1" height="7" fill="#fff"/><rect x="1220" y="366" width="1" height="22" fill="#000"/><rect x="1219" y="375" width="3" height="3" fill="#000"/><rect x="1224" y="358" width="1" height="27" fill="#000"/><rect x="1223" y="369" width="3" height="9" fill="#000"/><rect x="1224" y="370" width="1" height="7" fill="#fff"/><rect x="1228" y="356" width="1" height="37" fill="#000"/><rect x="1227" y="369" width="3" height="7" fill="#000"/><rect x="1232" y="364" width="1" height="24" fill="#000"/><rect x="1231" y="375" width="3" height="6" fill="#000"/><rect x="1236" y="373" width="1" height="12" fill="#000"/><rect x="1235" y="375" width="3" height="6" fill="#000"/><rect x="1240" y="371" width="1" height="30" fill="#000"/><rect x="1239" y="377" width="3" height="3" fill="#000"/><rect x="1240" y="378" width="1" height="1" fill="#fff"/><rect x="1244" y="358" width="1" height="25" fill="#000"/><rect x="1243" y="362" width="3" height="16" fill="#000"/><rect x="1244" y="363" width="1" height="14" fill="#fff"/><rect x="1248" y="345" width="1" height="19" fill="#000"/><rect x="1247" y="347" width="3" height="16" fill="#000"/><rect x="1248" y="348" width="1" height="14" fill="#fff"/><rect x="1252" y="305" width="1" height="46" fill="#000"/><rect x="1251" y="309" width="3" height="39" fill="#000"/><rect x="1252" y="310" width="1" height="37" fill="#fff"/><rect x="1256" y="309" width="1" height="5" fill="#000"/><rect x="1255" y="309" width="3" height="1" fill="#000"/><rect x="1260" y="306" width="1" height="11" fill="#000"/><rect x="1259" y="309" width="3" height="4" fill="#000"/><rect x="1260" y="310" width="1" height="2" fill="#fff"/><rect x="1264" y="298" width="1" height="21" fill="#000"/><rect x="1263" y="307" width="3" height="7" fill="#000"/><rect x="1268" y="312" width="1" height="14" fill="#000"/><rect x="1267" y="314" width="3" height="8" fill="#000"/><rect x="1272" y="317" width="1" height="9" fill="#000"/><rect x="1271" y="321" width="3" height="1" fill="#000"/><rect x="1276" y="293" width="1" height="29" fill="#000"/><rect x="1275" y="304" width="3" height="18" fill="#000"/><rect x="1276" y="305" width="1" height="16" fill="#fff"/><rect x="1280" y="298" width="1" height="11" fill="#000"/><rect x="1279" y="302" width="3" height="3" fill="#000"/><rect x="1280" y="303" width="1" height="1" fill="#fff"/><rect x="1284" y="305" width="1" height="4" fill="#000"/><rect x="1283" y="306" width="3" height="1" fill="#000"/><rect x="1288" y="297" width="1" height="18" fill="#000"/><rect x="1287" y="301" width="3" height="5" fill="#000"/><rect x="1288" y="302" width="1" height="3" fill="#fff"/><rect x="1292" y="290" width="1" height="15" fill="#000"/><rect x="1291" y="297" width="3" height="3" fill="#000"/><rect x="1292" y="298" width="1" height="1" fill="#fff"/><rect x="1296" y="283" width="1" height="16" fill="#000"/><rect x="1295" y="290" width="3" height="8" fill="#000"/><rect x="1296" y="291" width="1" height="6" fill="#fff"/><rect x="1300" y="287" width="1" height="17" fill="#000"/><rect x="1299" y="289" width="3" height="2" fill="#000"/><rect x="1304" y="288" width="1" height="8" fill="#000"/><rect x="1303" y="288" width="3" height="1" fill="#000"/><rect x="1308" y="287" width="1" height="8" fill="#000"/><rect x="1307" y="288" width="3" height="3" fill="#000"/><rect x="1308" y="289" width="1" height="1" fill="#fff"/><rect x="1312" y="275" width="1" height="18" fill="#000"/><rect x="1311" y="276" width="3" height="13" fill="#000"/><rect x="1312" y="277" width="1" height="11" fill="#fff"/><rect x="1316" y="275" width="1" height="12" fill="#000"/><rect x="1315" y="276" width="3" height="6" fill="#000"/><rect x="1320" y="280" width="1" height="15" fill="#000"/><rect x="1319" y="281" width="3" height="8" fill="#000"/><rect x="1324" y="284" width="1" height="23" fill="#000"/><rect x="1323" y="288" width="3" height="4" fill="#000"/><rect x="1328" y="285" width="1" height="15" fill="#000"/><rect x="1327" y="291" width="3" height="4" fill="#000"/><rect x="1332" y="294" width="1" height="6" fill="#000"/><rect x="1331" y="297" width="3" height="2" fill="#000"/><rect x="1336" y="290" width="1" height="25" fill="#000"/><rect x="1335" y="299" width="3" height="7" fill="#000"/><rect x="1340" y="296" width="1" height="25" fill="#000"/><rect x="1339" y="299" width="3" height="11" fill="#000"/><rect x="1344" y="300" width="1" height="14" fill="#000"/><rect x="1343" y="308" width="3" height="5" fill="#000"/><rect x="1348" y="288" width="1" height="26" fill="#000"/><rect x="1347" y="298" width="3" height="15" fill="#000"/><rect x="1348" y="299" width="1" height="13" fill="#fff"/><rect x="1352" y="286" width="1" height="14" fill="#000"/><rect x="1351" y="287" width="3" height="13" fill="#000"/><rect x="1352" y="288" width="1" height="11" fill="#fff"/><rect x="0" y="493" width="1" height="33" fill="#c0c0c0"/><rect x="4" y="493" width="1" height="32" fill="#c0c0c0"/><rect x="8" y="493" width="1" height="32" fill="#c0c0c0"/><rect x="12" y="493" width="1" height="31" fill="#c0c0c0"/><rect x="16" y="493" width="1" height="30" fill="#c0c0c0"/><rect x="20" y="493" width="1" height="32" fill="#c0c0c0"/><rect x="24" y="493" width="1" height="35" fill="#c0c0c0"/><rect x="28" y="493" width="1" height="42" fill="#c0c0c0"/><rect x="32" y="493" width="1" height="48" fill="#c0c0c0"/><rect x="36" y="493" width="1" height="54" fill="#c0c0c0"/><rect x="40" y="493" width="1" height="59" fill="#c0c0c0"/><rect x="44" y="493" width="1" height="59" fill="#c0c0c0"/><rect x="48" y="493" width="1" height="55" fill="#c0c0c0"/><rect x="52" y="493" width="1" height="51" fill="#c0c0c0"/><rect x="56" y="493" width="1" height="51" fill="#c0c0c0"/><rect x="60" y="493" width="1" height="55" fill="#c0c0c0"/><rect x="64" y="493" width="1" height="59" fill="#c0c0c0"/><rect x="68" y="493" width="1" height="64" fill="#c0c0c0"/><rect x="72" y="493" width="1" height="70" fill="#c0c0c0"/><rect x="76" y="493" width="1" height="69" fill="#c0c0c0"/><rect x="80" y="493" width="1" height="64" fill="#c0c0c0"/><rect x="84" y="493" width="1" height="60" fill="#c0c0c0"/><rect x="88" y="493" width="1" height="57" fill="#c0c0c0"/><rect x="92" y="493" width="1" height="54" fill="#c0c0c0"/><rect x="96" y="493" width="1" height="49" fill="#c0c0c0"/><rect x="100" y="493" width="1" height="49" fill="#c0c0c0"/><rect x="104" y="493" width="1" height="49" fill="#c0c0c0"/><rect x="108" y="493" width="1" height="52" fill="#c0c0c0"/><rect x="112" y="493" width="1" height="45" fill="#c0c0c0"/><rect x="116" y="493" width="1" height="38" fill="#c0c0c0"/><rect x="120" y="493" width="1" height="33" fill="#c0c0c0"/><rect x="124" y="493" width="1" height="28" fill="#c0c0c0"/><rect x="128" y="493" width="1" height="21" fill="#c0c0c0"/><rect x="132" y="493" width="1" height="14" fill="#c0c0c0"/><rect x="136" y="493" width="1" height="8" fill="#c0c0c0"/><rect x="140" y="493" width="1" height="2" fill="#c0c0c0"/><rect x="144" y="488" width="1" height="6" fill="#c0c0c0"/><rect x="148" y="485" width="1" height="9" fill="#c0c0c0"/><rect x="152" y="482" width="1" height="12" fill="#c0c0c0"/><rect x="156" y="480" width="1" height="14" fill="#c0c0c0"/><rect x="160" y="479" width="1" height="15" fill="#c0c0c0"/><rect x="164" y="481" width="1" height="13" fill="#c0c0c0"/><rect x="168" y="483" width="1" height="11" fill="#c0c0c0"/><rect x="172" y="483" width="1" height="11" fill="#c0c0c0"/><rect x="176" y="483" width="1" height="11" fill="#c0c0c0"/><rect x="180" y="480" width="1" height="14" fill="#c0c0c0"/><rect x="184" y="478" width="1" height="16" fill="#c0c0c0"/><rect x="188" y="474" width="1" height="20" fill="#c0c0c0"/><rect x="192" y="471" width="1" height="23" fill="#c0c0c0"/><rect x="196" y="471" width="1" height="23" fill="#c0c0c0"/><rect x="200" y="470" width="1" height="24" fill="#c0c0c0"/><rect x="204" y="471" width="1" height="23" fill="#c0c0c0"/><rect x="208" y="472" width="1" height="22" fill="#c0c0c0"/><rect x="212" y="473" width="1" height="21" fill="#c0c0c0"/><rect x="216" y="473" width="1" height="21" fill="#c0c0c0"/><rect x="220" y="473" width="1" height="21" fill="#c0c0c0"/><rect x="224" y="473" width="1" height="21" fill="#c0c0c0"/><rect x="228" y="473" width="1" height="21" fill="#c0c0c0"/><rect x="232" y="472" width="1" height="22" fill="#c0c0c0"/><rect x="236" y="472" width="1" height="22" fill="#c0c0c0"/><rect x="240" y="471" width="1" height="23" fill="#c0c0c0"/><rect x="244" y="471" width="1" height="23" fill="#c0c0c0"/><rect x="248" y="470" width="1" height="24" fill="#c0c0c0"/><rect x="252" y="469" width="1" height="25" fill="#c0c0c0"/><rect x="256" y="468" width="1" height="26" fill="#c0c0c0"/><rect x="260" y="468" width="1" height="26" fill="#c0c0c0"/><rect x="264" y="467" width="1" height="27" fill="#c0c0c0"/><rect x="268" y="465" width="1" height="29" fill="#c0c0c0"/><rect x="272" y="463" width="1" height="31" fill="#c0c0c0"/><rect x="276" y="461" width="1" height="33" fill="#c0c0c0"/><rect x="280" y="459" width="1" height="35" fill="#c0c0c0"/><rect x="284" y="459" width="1" height="35" fill="#c0c0c0"/><rect x="288" y="460" width="1" height="34" fill="#c0c0c0"/><rect x="292" y="461" width="1" height="33" fill="#c0c0c0"/><rect x="296" y="462" width="1" height="32" fill="#c0c0c0"/><rect x="300" y="464" width="1" height="30" fill="#c0c0c0"/><rect x="304" y="468" width="1" height="26" fill="#c0c0c0"/><rect x="308" y="474" width="1" height="20" fill="#c0c0c0"/><rect x="312" y="480" width="1" height="14" fill="#c0c0c0"/><rect x="316" y="485" width="1" height="9" fill="#c0c0c0"/><rect x="320" y="489" width="1" height="5" fill="#c0c0c0"/><rect x="324" y="491" width="1" height="3" fill="#c0c0c0"/><rect x="328" y="492" width="1" height="2" fill="#c0c0c0"/><rect x="332" y="492" width="1" height="2" fill="#c0c0c0"/><rect x="336" y="493" width="1" height="1" fill="#c0c0c0"/><rect x="340" y="493" width="1" height="3" fill="#c0c0c0"/><rect x="344" y="493" width="1" height="6" fill="#c0c0c0"/><rect x="348" y="493" width="1" height="12" fill="#c0c0c0"/><rect x="352" y="493" width="1" height="16" fill="#c0c0c0"/><rect x="356" y="493" width="1" height="20" fill="#c0c0c0"/><rect x="360" y="493" width="1" height="22" fill="#c0c0c0"/><rect x="364" y="493" width="1" height="25" fill="#c0c0c0"/><rect x="368" y="493" width="1" height="26" fill="#c0c0c0"/><rect x="372" y="493" width="1" height="24" fill="#c0c0c0"/><rect x="376" y="493" width="1" height="23" fill="#c0c0c0"/><rect x="380" y="493" width="1" height="22" fill="#c0c0c0"/><rect x="384" y="493" width="1" height="21" fill="#c0c0c0"/><rect x="388" y="493" width="1" height="21" fill="#c0c0c0"/><rect x="392" y="493" width="1" height="23" fill="#c0c0c0"/><rect x="396" y="493" width="1" height="24" fill="#c0c0c0"/><rect x="400" y="493" width="1" height="24" fill="#c0c0c0"/><rect x="404" y="493" width="1" height="24" fill="#c0c0c0"/><rect x="408" y="493" width="1" height="23" fill="#c0c0c0"/><rect x="412" y="493" width="1" height="20" fill="#c0c0c0"/><rect x="416" y="493" width="1" height="17" fill="#c0c0c0"/><rect x="420" y="493" width="1" height="15" fill="#c0c0c0"/><rect x="424" y="493" width="1" height="15" fill="#c0c0c0"/><rect x="428" y="493" width="1" height="16" fill="#c0c0c0"/><rect x="432" y="493" width="1" height="18" fill="#c0c0c0"/><rect x="436" y="493" width="1" height="17" fill="#c0c0c0"/><rect x="440" y="493" width="1" height="16" fill="#c0c0c0"/><rect x="444" y="493" width="1" height="14" fill="#c0c0c0"/><rect x="448" y="493" width="1" height="13" fill="#c0c0c0"/><rect x="452" y="493" width="1" height="10" fill="#c0c0c0"/><rect x="456" y="493" width="1" height="9" fill="#c0c0c0"/><rect x="460" y="493" width="1" height="12" fill="#c0c0c0"/><rect x="464" y="493" width="1" height="13" fill="#c0c0c0"/><rect x="468" y="493" width="1" height="14" fill="#c0c0c0"/><rect x="472" y="493" width="1" height="17" fill="#c0c0c0"/><rect x="476" y="493" width="1" height="20" fill="#c0c0c0"/><rect x="480" y="493" width="1" height="25" fill="#c0c0c0"/><rect x="484" y="493" width="1" height="27" fill="#c0c0c0"/><rect x="488" y="493" width="1" height="29" fill="#c0c0c0"/><rect x="492" y="493" width="1" height="33" fill="#c0c0c0"/><rect x="496" y="493" width="1" height="29" fill="#c0c0c0"/><rect x="500" y="493" width="1" height="26" fill="#c0c0c0"/><rect x="504" y="493" width="1" height="21" fill="#c0c0c0"/><rect x="508" y="493" width="1" height="16" fill="#c0c0c0"/><rect x="512" y="493" width="1" height="12" fill="#c0c0c0"/><rect x="516" y="493" width="1" height="10" fill="#c0c0c0"/><rect x="520" y="493" width="1" height="9" fill="#c0c0c0"/><rect x="524" y="493" width="1" height="8" fill="#c0c0c0"/><rect x="528" y="493" width="1" height="7" fill="#c0c0c0"/><rect x="532" y="493" width="1" height="6" fill="#c0c0c0"/><rect x="536" y="493" width="1" height="5" fill="#c0c0c0"/><rect x="540" y="493" width="1" height="4" fill="#c0c0c0"/><rect x="544" y="493" width="1" height="4" fill="#c0c0c0"/><rect x="548" y="493" width="1" height="3" fill="#c0c0c0"/><rect x="552" y="493" width="1" height="4" fill="#c0c0c0"/><rect x="556" y="493" width="1" height="4" fill="#c0c0c0"/><rect x="560" y="493" width="1" height="3" fill="#c0c0c0"/><rect x="564" y="493" width="1" height="2" fill="#c0c0c0"/><rect x="568" y="493" width="1" height="2" fill="#c0c0c0"/><rect x="572" y="487" width="1" height="7" fill="#c0c0c0"/><rect x="576" y="481" width="1" height="13" fill="#c0c0c0"/><rect x="580" y="477" width="1" height="17" fill="#c0c0c0"/><rect x="584" y="473" width="1" height="21" fill="#c0c0c0"/><rect x="588" y="472" width="1" height="22" fill="#c0c0c0"/><rect x="592" y="472" width="1" height="22" fill="#c0c0c0"/><rect x="596" y="471" width="1" height="23" fill="#c0c0c0"/><rect x="600" y="470" width="1" height="24" fill="#c0c0c0"/><rect x="604" y="470" width="1" height="24" fill="#c0c0c0"/><rect x="608" y="470" width="1" height="24" fill="#c0c0c0"/><rect x="612" y="469" width="1" height="25" fill="#c0c0c0"/><rect x="616" y="467" width="1" height="27" fill="#c0c0c0"/><rect x="620" y="465" width="1" height="29" fill="#c0c0c0"/><rect x="624" y="463" width="1" height="31" fill="#c0c0c0"/><rect x="628" y="460" width="1" height="34" fill="#c0c0c0"/><rect x="632" y="458" width="1" height="36" fill="#c0c0c0"/><rect x="636" y="458" width="1" height="36" fill="#c0c0c0"/><rect x="640" y="457" width="1" height="37" fill="#c0c0c0"/><rect x="644" y="460" width="1" height="34" fill="#c0c0c0"/><rect x="648" y="461" width="1" height="33" fill="#c0c0c0"/><rect x="652" y="462" width="1" height="32" fill="#c0c0c0"/><rect x="656" y="463" width="1" height="31" fill="#c0c0c0"/><rect x="660" y="464" width="1" height="30" fill="#c0c0c0"/><rect x="664" y="466" width="1" height="28" fill="#c0c0c0"/><rect x="668" y="467" width="1" height="27" fill="#c0c0c0"/><rect x="672" y="468" width="1" height="26" fill="#c0c0c0"/><rect x="676" y="468" width="1" height="26" fill="#c0c0c0"/><rect x="680" y="469" width="1" height="25" fill="#c0c0c0"/><rect x="684" y="465" width="1" height="29" fill="#c0c0c0"/><rect x="688" y="462" width="1" height="32" fill="#c0c0c0"/><rect x="692" y="461" width="1" height="33" fill="#c0c0c0"/><rect x="696" y="460" width="1" height="34" fill="#c0c0c0"/><rect x="700" y="460" width="1" height="34" fill="#c0c0c0"/><rect x="704" y="461" width="1" height="33" fill="#c0c0c0"/><rect x="708" y="463" width="1" height="31" fill="#c0c0c0"/><rect x="712" y="468" width="1" height="26" fill="#c0c0c0"/><rect x="716" y="477" width="1" height="17" fill="#c0c0c0"/><rect x="720" y="484" width="1" height="10" fill="#c0c0c0"/><rect x="724" y="493" width="1" height="1" fill="#c0c0c0"/><rect x="728" y="493" width="1" height="14" fill="#c0c0c0"/><rect x="732" y="493" width="1" height="20" fill="#c0c0c0"/><rect x="736" y="493" width="1" height="22" fill="#c0c0c0"/><rect x="740" y="493" width="1" height="24" fill="#c0c0c0"/><rect x="744" y="493" width="1" height="25" fill="#c0c0c0"/><rect x="748" y="493" width="1" height="26" fill="#c0c0c0"/><rect x="752" y="493" width="1" height="27" fill="#c0c0c0"/><rect x="756" y="493" width="1" height="26" fill="#c0c0c0"/><rect x="760" y="493" width="1" height="33" fill="#c0c0c0"/><rect x="764" y="493" width="1" height="41" fill="#c0c0c0"/><rect x="768" y="493" width="1" height="47" fill="#c0c0c0"/><rect x="772" y="493" width="1" height="49" fill="#c0c0c0"/><rect x="776" y="493" width="1" height="47" fill="#c0c0c0"/><rect x="780" y="493" width="1" height="45" fill="#c0c0c0"/><rect x="784" y="493" width="1" height="41" fill="#c0c0c0"/><rect x="788" y="493" width="1" height="37" fill="#c0c0c0"/><rect x="792" y="493" width="1" height="37" fill="#c0c0c0"/><rect x="796" y="493" width="1" height="39" fill="#c0c0c0"/><rect x="800" y="493" width="1" height="41" fill="#c0c0c0"/><rect x="804" y="493" width="1" height="43" fill="#c0c0c0"/><rect x="808" y="493" width="1" height="45" fill="#c0c0c0"/><rect x="812" y="493" width="1" height="46" fill="#c0c0c0"/><rect x="816" y="493" width="1" height="46" fill="#c0c0c0"/><rect x="820" y="493" width="1" height="45" fill="#c0c0c0"/><rect x="824" y="493" width="1" height="42" fill="#c0c0c0"/><rect x="828" y="493" width="1" height="40" fill="#c0c0c0"/><rect x="832" y="493" width="1" height="40" fill="#c0c0c0"/><rect x="836" y="493" width="1" height="39" fill="#c0c0c0"/><rect x="840" y="493" width="1" height="35" fill="#c0c0c0"/><rect x="844" y="493" width="1" height="34" fill="#c0c0c0"/><rect x="848" y="493" width="1" height="32" fill="#c0c0c0"/><rect x="852" y="493" width="1" height="29" fill="#c0c0c0"/><rect x="856" y="493" width="1" height="24" fill="#c0c0c0"/><rect x="860" y="493" width="1" height="17" fill="#c0c0c0"/><rect x="864" y="493" width="1" height="10" fill="#c0c0c0"/><rect x="868" y="493" width="1" height="6" fill="#c0c0c0"/><rect x="872" y="493" width="1" height="2" fill="#c0c0c0"/><rect x="876" y="492" width="1" height="2" fill="#c0c0c0"/><rect x="880" y="489" width="1" height="5" fill="#c0c0c0"/><rect x="884" y="485" width="1" height="9" fill="#c0c0c0"/><rect x="888" y="484" width="1" height="10" fill="#c0c0c0"/><rect x="892" y="484" width="1" height="10" fill="#c0c0c0"/><rect x="896" y="483" width="1" height="11" fill="#c0c0c0"/><rect x="900" y="485" width="1" height="9" fill="#c0c0c0"/><rect x="904" y="489" width="1" height="5" fill="#c0c0c0"/><rect x="908" y="493" width="1" height="2" fill="#c0c0c0"/><rect x="912" y="493" width="1" height="5" fill="#c0c0c0"/><rect x="916" y="493" width="1" height="8" fill="#c0c0c0"/><rect x="920" y="493" width="1" height="12" fill="#c0c0c0"/><rect x="924" y="493" width="1" height="13" fill="#c0c0c0"/><rect x="928" y="493" width="1" height="12" fill="#c0c0c0"/><rect x="932" y="493" width="1" height="12" fill="#c0c0c0"/><rect x="936" y="493" width="1" height="15" fill="#c0c0c0"/><rect x="940" y="493" width="1" height="20" fill="#c0c0c0"/><rect x="944" y="493" width="1" height="25" fill="#c0c0c0"/><rect x="948" y="493" width="1" height="25" fill="#c0c0c0"/><rect x="952" y="493" width="1" height="26" fill="#c0c0c0"/><rect x="956" y="493" width="1" height="26" fill="#c0c0c0"/><rect x="960" y="493" width="1" height="25" fill="#c0c0c0"/><rect x="964" y="493" width="1" height="25" fill="#c0c0c0"/><rect x="968" y="493" width="1" height="24" fill="#c0c0c0"/><rect x="972" y="493" width="1" height="26" fill="#c0c0c0"/><rect x="976" y="493" width="1" height="28" fill="#c0c0c0"/><rect x="980" y="493" width="1" height="28" fill="#c0c0c0"/><rect x="984" y="493" width="1" height="29" fill="#c0c0c0"/><rect x="988" y="493" width="1" height="27" fill="#c0c0c0"/><rect x="992" y="493" width="1" height="33" fill="#c0c0c0"/><rect x="996" y="493" width="1" height="35" fill="#c0c0c0"/><rect x="1000" y="493" width="1" height="43" fill="#c0c0c0"/><rect x="1004" y="493" width="1" height="47" fill="#c0c0c0"/><rect x="1008" y="493" width="1" height="52" fill="#c0c0c0"/><rect x="1012" y="493" width="1" height="59" fill="#c0c0c0"/><rect x="1016" y="493" width="1" height="60" fill="#c0c0c0"/><rect x="1020" y="493" width="1" height="62" fill="#c0c0c0"/><rect x="1024" y="493" width="1" height="66" fill="#c0c0c0"/><rect x="1028" y="493" width="1" height="69" fill="#c0c0c0"/><rect x="1032" y="493" width="1" height="72" fill="#c0c0c0"/><rect x="1036" y="493" width="1" height="74" fill="#c0c0c0"/><rect x="1040" y="493" width="1" height="75" fill="#c0c0c0"/><rect x="1044" y="493" width="1" height="77" fill="#c0c0c0"/><rect x="1048" y="493" width="1" height="75" fill="#c0c0c0"/><rect x="1052" y="493" width="1" height="80" fill="#c0c0c0"/><rect x="1056" y="493" width="1" height="87" fill="#c0c0c0"/><rect x="1060" y="493" width="1" height="90" fill="#c0c0c0"/><rect x="1064" y="493" width="1" height="89" fill="#c0c0c0"/><rect x="1068" y="493" width="1" height="92" fill="#c0c0c0"/><rect x="1072" y="493" width="1" height="98" fill="#c0c0c0"/><rect x="1076" y="493" width="1" height="98" fill="#c0c0c0"/><rect x="1080" y="493" width="1" height="99" fill="#c0c0c0"/><rect x="1084" y="493" width="1" height="98" fill="#c0c0c0"/><rect x="1088" y="493" width="1" height="95" fill="#c0c0c0"/><rect x="1092" y="493" width="1" height="89" fill="#c0c0c0"/><rect x="1096" y="493" width="1" height="85" fill="#c0c0c0"/><rect x="1100" y="493" width="1" height="75" fill="#c0c0c0"/><rect x="1104" y="493" width="1" height="66" fill="#c0c0c0"/><rect x="1108" y="493" width="1" height="52" fill="#c0c0c0"/><rect x="1112" y="493" width="1" height="38" fill="#c0c0c0"/><rect x="1116" y="493" width="1" height="26" fill="#c0c0c0"/><rect x="1120" y="493" width="1" height="17" fill="#c0c0c0"/><rect x="1124" y="493" width="1" height="15" fill="#c0c0c0"/><rect x="1128" y="493" width="1" height="14" fill="#c0c0c0"/><rect x="1132" y="493" width="1" height="16" fill="#c0c0c0"/><rect x="1136" y="493" width="1" height="10" fill="#c0c0c0"/><rect x="1140" y="493" width="1" height="5" fill="#c0c0c0"/><rect x="1144" y="493" width="1" height="2" fill="#c0c0c0"/><rect x="1148" y="493" width="1" height="1" fill="#c0c0c0"/><rect x="1152" y="489" width="1" height="5" fill="#c0c0c0"/><rect x="1156" y="487" width="1" height="7" fill="#c0c0c0"/><rect x="1160" y="486" width="1" height="8" fill="#c0c0c0"/><rect x="1164" y="485" width="1" height="9" fill="#c0c0c0"/><rect x="1168" y="482" width="1" height="12" fill="#c0c0c0"/><rect x="1172" y="482" width="1" height="12" fill="#c0c0c0"/><rect x="1176" y="482" width="1" height="12" fill="#c0c0c0"/><rect x="1180" y="484" width="1" height="10" fill="#c0c0c0"/><rect x="1184" y="487" width="1" height="7" fill="#c0c0c0"/><rect x="1188" y="489" width="1" height="5" fill="#c0c0c0"/><rect x="1192" y="493" width="1" height="1" fill="#c0c0c0"/><rect x="1196" y="493" width="1" height="6" fill="#c0c0c0"/><rect x="1200" y="493" width="1" height="9" fill="#c0c0c0"/><rect x="1204" y="493" width="1" height="6" fill="#c0c0c0"/><rect x="1208" y="493" width="1" height="7" fill="#c0c0c0"/><rect x="1212" y="493" width="1" height="13" fill="#c0c0c0"/><rect x="1216" y="493" width="1" height="17" fill="#c0c0c0"/><rect x="1220" y="493" width="1" height="18" fill="#c0c0c0"/><rect x="1224" y="493" width="1" height="20" fill="#c0c0c0"/><rect x="1228" y="493" width="1" height="22" fill="#c0c0c0"/><rect x="1232" y="493" width="1" height="23" fill="#c0c0c0"/><rect x="1236" y="493" width="1" height="24" fill="#c0c0c0"/><rect x="1240" y="493" width="1" height="24" fill="#c0c0c0"/><rect x="1244" y="493" width="1" height="21" fill="#c0c0c0"/><rect x="1248" y="493" width="1" height="16" fill="#c0c0c0"/><rect x="1252" y="493" width="1" height="4" fill="#c0c0c0"/><rect x="1256" y="490" width="1" height="4" fill="#c0c0c0"/><rect x="1260" y="483" width="1" height="11" fill="#c0c0c0"/><rect x="1264" y="479" width="1" height="15" fill="#c0c0c0"/><rect x="1268" y="478" width="1" height="16" fill="#c0c0c0"/><rect x="1272" y="476" width="1" height="18" fill="#c0c0c0"/><rect x="1276" y="472" width="1" height="22" fill="#c0c0c0"/><rect x="1280" y="470" width="1" height="24" fill="#c0c0c0"/><rect x="1284" y="468" width="1" height="26" fill="#c0c0c0"/><rect x="1288" y="466" width="1" height="28" fill="#c0c0c0"/><rect x="1292" y="465" width="1" height="29" fill="#c0c0c0"/><rect x="1296" y="463" width="1" height="31" fill="#c0c0c0"/><rect x="1300" y="461" width="1" height="33" fill="#c0c0c0"/><rect x="1304" y="460" width="1" height="34" fill="#c0c0c0"/><rect x="1308" y="460" width="1" height="34" fill="#c0c0c0"/><rect x="1312" y="459" width="1" height="35" fill="#c0c0c0"/><rect x="1316" y="458" width="1" height="36" fill="#c0c0c0"/><rect x="1320" y="459" width="1" height="35" fill="#c0c0c0"/><rect x="1324" y="461" width="1" height="33" fill="#c0c0c0"/><rect x="1328" y="464" width="1" height="30" fill="#c0c0c0"/><rect x="1332" y="466" width="1" height="28" fill="#c0c0c0"/><rect x="1336" y="470" width="1" height="24" fill="#c0c0c0"/><rect x="1340" y="474" width="1" height="20" fill="#c0c0c0"/><rect x="1344" y="478" width="1" height="16" fill="#c0c0c0"/><rect x="1348" y="479" width="1" height="15" fill="#c0c0c0"/><rect x="1352" y="478" width="1" height="16" fill="#c0c0c0"/><rect x="0" y="26" width="1583" height="1" fill="#000"/><rect x="1582" y="26" width="1" height="421" fill="#000"/><rect x="0" y="446" width="1583" height="1" fill="#000"/><rect x="0" y="448" width="1583" height="1" fill="#000"/><rect x="1582" y="448" width="1" height="152" fill="#000"/><rect x="0" y="599" width="1583" height="1" fill="#000"/><rect x="0" y="601" width="1583" height="1" fill="#000"/><rect x="1582" y="601" width="1" height="151" fill="#000"/><rect x="0" y="751" width="1583" height="1" fill="#000"/><line x1="3" y1="632.5" x2="1582" y2="632.5" stroke="#c0c0c0" stroke-width="1" stroke-dasharray="3,3"/><line x1="3" y1="676.5" x2="1582" y2="676.5" stroke="#c0c0c0" stroke-width="1" stroke-dasharray="3,3"/><line x1="3" y1="728.5" x2="1582" y2="728.5" stroke="#c0c0c0" stroke-width="1" stroke-dasharray="3,3"/></svg>
<svg width="1625" height="770" shape-rendering="crispEdges"><polyline points="0.5,509.5 4.5,511.0 8.5,513.0 12.5,514.8 16.5,516.5 20.5,520.1 24.5,522.8 28.5,525.2 32.5,527.8 36.5,530.4 40.5,533.0 44.5,536.4 48.5,539.2 52.5,541.6 56.5,543.1 60.5,544.7 64.5,546.4 68.5,548.5 72.5,550.2 76.5,551.7 80.5,552.5 84.5,553.4 88.5,554.0 92.5,554.2 96.5,553.8 100.5,552.7 104.5,551.5 108.5,549.3 112.5,546.2 116.5,543.1 120.5,539.9 124.5,536.7 128.5,533.5 132.5,528.7 136.5,523.9 140.5,518.7 144.5,513.1 148.5,507.5 152.5,501.9 156.5,496.3 160.5,492.1 164.5,489.3 168.5,486.5 172.5,484.5 176.5,482.5 180.5,481.3 184.5,480.9 188.5,480.5 192.5,479.2 196.5,477.8 200.5,476.8 204.5,475.8 208.5,474.3 212.5,472.7 216.5,471.5 220.5,471.5 224.5,471.5 228.5,471.5 232.5,471.5 236.5,471.5 240.5,471.5 244.5,471.5 248.5,471.5 252.5,471.5 256.5,471.1 260.5,470.3 264.5,469.5 268.5,468.3 272.5,467.1 276.5,465.9 280.5,464.7 284.5,463.5 288.5,462.7 292.5,461.9 296.5,461.5 300.5,461.5 304.5,461.5 308.5,462.3 312.5,465.7 316.5,468.9 320.5,472.1 324.5,475.4 328.5,479.0 332.5,482.6 336.5,485.6 340.5,488.4 344.5,491.4 348.5,495.0 352.5,498.6 356.5,501.6 360.5,504.4 364.5,507.1 368.5,509.5 372.5,511.9 376.5,513.7 380.5,515.3 384.5,516.6 388.5,517.0 392.5,517.3 396.5,517.2 400.5,516.5 404.5,516.1 408.5,515.7 412.5,515.3 416.5,514.9 420.5,514.5 424.5,513.3 428.5,512.1 432.5,511.3 436.5,510.8 440.5,510.3 444.5,509.5 448.5,508.7 452.5,508.2 456.5,507.8 460.5,507.4 464.5,507.0 468.5,506.6 472.5,507.0 476.5,507.8 480.5,509.0 484.5,510.2 488.5,512.0 492.5,514.0 496.5,516.0 500.5,517.6 504.5,518.0 508.5,518.4 512.5,516.8 516.5,514.6 520.5,512.7 524.5,511.1 528.5,509.5 532.5,506.7 536.5,503.9 540.5,502.1 544.5,501.3 548.5,500.5 552.5,499.7 556.5,498.9 560.5,498.1 564.5,497.3 568.5,496.5 572.5,494.5 576.5,492.5 580.5,490.4 584.5,488.2 588.5,485.8 592.5,483.2 596.5,480.6 600.5,478.1 604.5,475.6 608.5,473.1 612.5,471.4 616.5,469.9 620.5,468.8 624.5,467.8 628.5,466.6 632.5,465.5 636.5,464.0 640.5,462.5 644.5,461.5 648.5,460.5 652.5,460.5 656.5,460.5 660.5,460.5 664.5,461.0 668.5,461.5 672.5,462.5 676.5,463.5 680.5,464.5 684.5,465.5 688.5,465.2 692.5,464.8 696.5,464.5 700.5,464.0 704.5,463.5 708.5,463.1 712.5,462.8 716.5,463.0 720.5,465.0 724.5,468.5 728.5,473.3 732.5,480.7 736.5,487.5 740.5,493.5 744.5,497.5 748.5,501.9 752.5,507.4 756.5,512.2 760.5,515.2 764.5,518.4 768.5,522.0 772.5,525.6 776.5,528.4 780.5,531.0 784.5,533.5 788.5,534.3 792.5,535.9 796.5,537.5 800.5,536.5 804.5,535.5 808.5,535.5 812.5,535.5 816.5,535.5 820.5,535.5 824.5,535.5 828.5,535.5 832.5,535.5 836.5,535.5 840.5,535.2 844.5,534.2 848.5,532.9 852.5,530.4 856.5,527.9 860.5,525.4 864.5,522.8 868.5,519.8 872.5,516.4 876.5,511.9 880.5,507.4 884.5,502.9 888.5,498.4 892.5,493.9 896.5,490.1 900.5,488.4 904.5,487.5 908.5,487.5 912.5,488.0 916.5,489.0 920.5,490.8 924.5,493.2 928.5,495.8 932.5,498.2 936.5,501.0 940.5,504.0 944.5,506.8 948.5,509.2 952.5,511.0 956.5,512.0 960.5,513.0 964.5,514.0 968.5,515.3 972.5,516.9 976.5,518.5 980.5,518.5 984.5,518.5 988.5,518.8 992.5,520.2 996.5,521.6 1000.5,523.1 1004.5,525.4 1008.5,527.9 1012.5,531.1 1016.5,534.6 1020.5,538.9 1024.5,543.5 1028.5,547.5 1032.5,551.5 1036.5,555.0 1040.5,558.5 1044.5,560.5 1048.5,562.5 1052.5,564.5 1056.5,566.5 1060.5,569.0 1064.5,571.5 1068.5,573.0 1072.5,574.5 1076.5,577.0 1080.5,579.5 1084.5,582.8 1088.5,584.8 1092.5,585.2 1096.5,584.9 1100.5,583.8 1104.5,579.4 1108.5,573.9 1112.5,569.6 1116.5,563.1 1120.5,554.6 1124.5,545.5 1128.5,538.5 1132.5,531.5 1136.5,525.5 1140.5,519.5 1144.5,513.5 1148.5,507.5 1152.5,503.5 1156.5,499.5 1160.5,496.5 1164.5,493.5 1168.5,491.2 1172.5,488.7 1176.5,485.5 1180.5,485.1 1184.5,484.7 1188.5,484.5 1192.5,484.5 1196.5,485.5 1200.5,487.5 1204.5,489.5 1208.5,491.5 1212.5,494.2 1216.5,497.6 1220.5,500.8 1224.5,503.8 1228.5,506.0 1232.5,508.0 1236.5,510.0 1240.5,512.0 1244.5,512.9 1248.5,513.4 1252.5,512.0 1256.5,510.0 1260.5,506.9 1264.5,503.4 1268.5,499.1 1272.5,494.6 1276.5,490.1 1280.5,485.6 1284.5,481.5 1288.5,477.5 1292.5,473.9 1296.5,470.5 1300.5,469.0 1304.5,467.5 1308.5,465.5 1312.5,463.5 1316.5,462.5 1320.5,461.5 1324.5,461.0 1328.5,460.5 1332.5,460.5 1336.5,460.5 1340.5,463.0 1344.5,465.5 1348.5,467.0 1352.5,468.5" fill="none" stroke="#ff0000" stroke-width="1" stroke-dasharray="3,3"/><polyline points="0.5,713.5 4.5,689.5 8.5,687.5 12.5,686.5 16.5,688.5 20.5,694.5 24.5,696.5 28.5,703.5 32.5,709.5 36.5,711.5 40.5,709.5 44.5,700.5 48.5,694.5 52.5,689.5 56.5,696.5 60.5,700.5 64.5,708.5 68.5,709.5 72.5,713.5 76.5,697.5 80.5,693.5 84.5,690.5 88.5,693.5 92.5,686.5 96.5,686.5 100.5,696.5 104.5,698.5 108.5,696.5 112.5,677.5 116.5,679.5 120.5,680.5 124.5,675.5 128.5,670.5 132.5,670.5 136.5,663.5 140.5,665.5 144.5,663.5 148.5,662.5 152.5,668.5 156.5,667.5 160.5,668.5 164.5,671.5 168.5,675.5 172.5,673.5 176.5,672.5 180.5,667.5 184.5,665.5 188.5,649.5 192.5,661.5 196.5,664.5 200.5,663.5 204.5,667.5 208.5,665.5 212.5,666.5 216.5,665.5 220.5,665.5 224.5,664.5 228.5,662.5 232.5,659.5 236.5,660.5 240.5,654.5 244.5,654.5 248.5,656.5 252.5,656.5 256.5,649.5 260.5,651.5 264.5,652.5 268.5,645.5 272.5,641.5 276.5,639.5 280.5,639.5 284.5,650.5 288.5,650.5 292.5,654.5 296.5,655.5 300.5,654.5 304.5,673.5 308.5,686.5 312.5,687.5 316.5,693.5 320.5,686.5 324.5,684.5 328.5,671.5 332.5,680.5 336.5,688.5 340.5,696.5 344.5,699.5 348.5,704.5 352.5,705.5 356.5,698.5 360.5,699.5 364.5,695.5 368.5,700.5 372.5,687.5 376.5,685.5 380.5,690.5 384.5,683.5 388.5,698.5 392.5,686.5 396.5,692.5 400.5,688.5 404.5,686.5 408.5,690.5 412.5,678.5 416.5,677.5 420.5,679.5 424.5,683.5 428.5,691.5 432.5,689.5 436.5,685.5 440.5,680.5 444.5,686.5 448.5,677.5 452.5,674.5 456.5,679.5 460.5,690.5 464.5,691.5 468.5,691.5 472.5,689.5 476.5,697.5 480.5,705.5 484.5,700.5 488.5,702.5 492.5,703.5 496.5,685.5 500.5,679.5 504.5,676.5 508.5,669.5 512.5,675.5 516.5,678.5 520.5,679.5 524.5,677.5 528.5,678.5 532.5,679.5 536.5,675.5 540.5,675.5 544.5,675.5 548.5,682.5 552.5,679.5 556.5,686.5 560.5,684.5 564.5,671.5 568.5,664.5 572.5,652.5 576.5,648.5 580.5,652.5 584.5,650.5 588.5,656.5 592.5,663.5 596.5,658.5 600.5,659.5 604.5,656.5 608.5,655.5 612.5,655.5 616.5,649.5 620.5,647.5 624.5,646.5 628.5,641.5 632.5,640.5 636.5,641.5 640.5,647.5 644.5,660.5 648.5,655.5 652.5,654.5 656.5,654.5 660.5,659.5 664.5,657.5 668.5,660.5 672.5,658.5 676.5,652.5 680.5,652.5 684.5,638.5 688.5,642.5 692.5,642.5 696.5,651.5 700.5,651.5 704.5,650.5 708.5,656.5 712.5,675.5 716.5,692.5 720.5,694.5 724.5,711.5 728.5,711.5 732.5,707.5 736.5,697.5 740.5,693.5 744.5,691.5 748.5,692.5 752.5,691.5 756.5,695.5 760.5,709.5 764.5,714.5 768.5,716.5 772.5,703.5 776.5,695.5 780.5,689.5 784.5,689.5 788.5,691.5 792.5,687.5 796.5,698.5 800.5,701.5 804.5,703.5 808.5,705.5 812.5,701.5 816.5,703.5 820.5,696.5 824.5,689.5 828.5,693.5 832.5,699.5 836.5,691.5 840.5,683.5 844.5,694.5 848.5,686.5 852.5,684.5 856.5,678.5 860.5,667.5 864.5,666.5 868.5,664.5 872.5,668.5 876.5,667.5 880.5,663.5 884.5,664.5 888.5,668.5 892.5,669.5 896.5,669.5 900.5,676.5 904.5,686.5 908.5,694.5 912.5,686.5 916.5,692.5 920.5,693.5 924.5,690.5 928.5,679.5 932.5,683.5 936.5,694.5 940.5,698.5 944.5,702.5 948.5,687.5 952.5,690.5 956.5,690.5 960.5,683.5 964.5,689.5 968.5,691.5 972.5,692.5 976.5,697.5 980.5,695.5 984.5,693.5 988.5,685.5 992.5,704.5 996.5,700.5 1000.5,707.5 1004.5,708.5 1008.5,711.5 1012.5,714.5 1016.5,707.5 1020.5,707.5 1024.5,713.5 1028.5,714.5 1032.5,715.5 1036.5,716.5 1040.5,717.5 1044.5,719.5 1048.5,709.5 1052.5,713.5 1056.5,723.5 1060.5,724.5 1064.5,720.5 1068.5,715.5 1072.5,720.5 1076.5,723.5 1080.5,719.5 1084.5,711.5 1088.5,710.5 1092.5,698.5 1096.5,701.5 1100.5,686.5 1104.5,683.5 1108.5,674.5 1112.5,664.5 1116.5,663.5 1120.5,667.5 1124.5,677.5 1128.5,681.5 1132.5,686.5 1136.5,669.5 1140.5,670.5 1144.5,670.5 1148.5,672.5 1152.5,670.5 1156.5,671.5 1160.5,670.5 1164.5,669.5 1168.5,668.5 1172.5,671.5 1176.5,671.5 1180.5,679.5 1184.5,680.5 1188.5,675.5 1192.5,689.5 1196.5,693.5 1200.5,684.5 1204.5,675.5 1208.5,680.5 1212.5,693.5 1216.5,690.5 1220.5,689.5 1224.5,685.5 1228.5,688.5 1232.5,690.5 1236.5,690.5 1240.5,687.5 1244.5,679.5 1248.5,671.5 1252.5,657.5 1256.5,656.5 1260.5,656.5 1264.5,660.5 1268.5,664.5 1272.5,664.5 1276.5,658.5 1280.5,656.5 1284.5,660.5 1288.5,658.5 1292.5,655.5 1296.5,653.5 1300.5,652.5 1304.5,652.5 1308.5,652.5 1312.5,647.5 1316.5,651.5 1320.5,658.5 1324.5,661.5 1328.5,664.5 1332.5,667.5 1336.5,673.5 1340.5,677.5 1344.5,679.5 1348.5,671.5 1352.5,662.5" fill="none" stroke="#1e90ff" stroke-width="1"/></svg>
<svg width="1625" height="770" shape-rendering="crispEdges"><rect x="1583" y="47" width="2" height="1" fill="#000"/><rect x="1583" y="80" width="2" height="1" fill="#000"/><rect x="1583" y="113" width="2" height="1" fill="#000"/><rect x="1583" y="146" width="2" height="1" fill="#000"/><rect x="1583" y="179" width="2" height="1" fill="#000"/><rect x="1583" y="212" width="2" height="1" fill="#000"/><rect x="1583" y="245" width="2" height="1" fill="#000"/><rect x="1583" y="278" width="2" height="1" fill="#000"/><rect x="1583" y="311" width="2" height="1" fill="#000"/><rect x="1583" y="344" width="2" height="1" fill="#000"/><rect x="1583" y="377" width="2" height="1" fill="#000"/><rect x="1583" y="410" width="2" height="1" fill="#000"/><rect x="1583" y="443" width="2" height="1" fill="#000"/><rect x="1583" y="450" width="2" height="1" fill="#000"/><rect x="1583" y="493" width="2" height="1" fill="#000"/><rect x="1583" y="598" width="2" height="1" fill="#000"/><rect x="1583" y="603" width="2" height="1" fill="#000"/><rect x="1583" y="632" width="2" height="1" fill="#000"/><rect x="1583" y="676" width="2" height="1" fill="#000"/><rect x="1583" y="728" width="2" height="1" fill="#000"/><rect x="60" y="752" width="1" height="2" fill="#000"/><rect x="124" y="752" width="1" height="2" fill="#000"/><rect x="188" y="752" width="1" height="2" fill="#000"/><rect x="252" y="752" width="1" height="2" fill="#000"/><rect x="316" y="752" width="1" height="2" fill="#000"/><rect x="380" y="752" width="1" height="2" fill="#000"/><rect x="444" y="752" width="1" height="2" fill="#000"/><rect x="508" y="752" width="1" height="2" fill="#000"/><rect x="572" y="752" width="1" height="2" fill="#000"/><rect x="636" y="752" width="1" height="2" fill="#000"/><rect x="700" y="752" width="1" height="2" fill="#000"/><rect x="764" y="752" width="1" height="2" fill="#000"/><rect x="828" y="752" width="1" height="2" fill="#000"/><rect x="892" y="752" width="1" height="2" fill="#000"/><rect x="956" y="752" width="1" height="2" fill="#000"/><rect x="1020" y="752" width="1" height="2" fill="#000"/><rect x="1084" y="752" width="1" height="2" fill="#000"/><rect x="1148" y="752" width="1" height="2" fill="#000"/><rect x="1212" y="752" width="1" height="2" fill="#000"/><rect x="1276" y="752" width="1" height="2" fill="#000"/><rect x="1340" y="752" width="1" height="2" fill="#000"/><polygon points="0,37 3,33 6,37" fill="#000"/><polygon points="1354,27 1363,27 1358.5,32" fill="#c0c0c0"/></svg>
<svg width="1625" height="770"><text transform="translate(1588,51) scale(0.98,1)" font-size="9.45" fill="#000" text-anchor="start" font-weight="normal" font-family='"Liberation Sans", sans-serif' >22766.0</text><text transform="translate(1588,84) scale(0.98,1)" font-size="9.45" fill="#000" text-anchor="start" font-weight="normal" font-family='"Liberation Sans", sans-serif' >22436.0</text><text transform="translate(1588,117) scale(0.98,1)" font-size="9.45" fill="#000" text-anchor="start" font-weight="normal" font-family='"Liberation Sans", sans-serif' >22096.0</text><text transform="translate(1588,150) scale(0.98,1)" font-size="9.45" fill="#000" text-anchor="start" font-weight="normal" font-family='"Liberation Sans", sans-serif' >21766.0</text><text transform="translate(1588,183) scale(0.98,1)" font-size="9.45" fill="#000" text-anchor="start" font-weight="normal" font-family='"Liberation Sans", sans-serif' >21436.0</text><text transform="translate(1588,216) scale(0.98,1)" font-size="9.45" fill="#000" text-anchor="start" font-weight="normal" font-family='"Liberation Sans", sans-serif' >21096.0</text><text transform="translate(1588,249) scale(0.98,1)" font-size="9.45" fill="#000" text-anchor="start" font-weight="normal" font-family='"Liberation Sans", sans-serif' >20766.0</text><text transform="translate(1588,282) scale(0.98,1)" font-size="9.45" fill="#000" text-anchor="start" font-weight="normal" font-family='"Liberation Sans", sans-serif' >20436.0</text><text transform="translate(1588,315) scale(0.98,1)" font-size="9.45" fill="#000" text-anchor="start" font-weight="normal" font-family='"Liberation Sans", sans-serif' >20096.0</text><text transform="translate(1588,348) scale(0.98,1)" font-size="9.45" fill="#000" text-anchor="start" font-weight="normal" font-family='"Liberation Sans", sans-serif' >19766.0</text><text transform="translate(1588,381) scale(0.98,1)" font-size="9.45" fill="#000" text-anchor="start" font-weight="normal" font-family='"Liberation Sans", sans-serif' >19426.0</text><text transform="translate(1588,414) scale(0.98,1)" font-size="9.45" fill="#000" text-anchor="start" font-weight="normal" font-family='"Liberation Sans", sans-serif' >19096.0</text><text transform="translate(1588,447) scale(0.98,1)" font-size="9.45" fill="#000" text-anchor="start" font-weight="normal" font-family='"Liberation Sans", sans-serif' >18766.0</text><text transform="translate(1586,459) scale(0.98,1)" font-size="9.45" fill="#000" text-anchor="start" font-weight="normal" font-family='"Liberation Sans", sans-serif' >205.76</text><text transform="translate(1586,497) scale(0.98,1)" font-size="9.45" fill="#000" text-anchor="start" font-weight="normal" font-family='"Liberation Sans", sans-serif' >0.00</text><text transform="translate(1586,595) scale(0.98,1)" font-size="9.45" fill="#000" text-anchor="start" font-weight="normal" font-family='"Liberation Sans", sans-serif' >-493.77</text><text transform="translate(1586,612) scale(0.98,1)" font-size="9.45" fill="#000" text-anchor="start" font-weight="normal" font-family='"Liberation Sans", sans-serif' >100</text><text transform="translate(1585,636) scale(0.98,1)" font-size="9.45" fill="#000" text-anchor="start" font-weight="normal" font-family='"Liberation Sans", sans-serif' >80</text><text transform="translate(1585,680) scale(0.98,1)" font-size="9.45" fill="#000" text-anchor="start" font-weight="normal" font-family='"Liberation Sans", sans-serif' >50</text><text transform="translate(1585,732) scale(0.98,1)" font-size="9.45" fill="#000" text-anchor="start" font-weight="normal" font-family='"Liberation Sans", sans-serif' >15</text><text transform="translate(1586,748) scale(0.98,1)" font-size="9.45" fill="#000" text-anchor="start" font-weight="normal" font-family='"Liberation Sans", sans-serif' >0</text><text transform="translate(45.5,764) scale(0.98,1)" font-size="9.45" fill="#000" text-anchor="end" font-weight="normal" font-family='"Liberation Sans", sans-serif' >23 Oct 2018</text><text transform="translate(59,764) scale(0.98,1)" font-size="9.45" fill="#000" text-anchor="start" font-weight="normal" font-family='"Liberation Sans", sans-serif' >25 Oct 23:30</text><text transform="translate(123,764) scale(0.98,1)" font-size="9.45" fill="#000" text-anchor="start" font-weight="normal" font-family='"Liberation Sans", sans-serif' >30 Oct 14:55</text><text transform="translate(187,764) scale(0.98,1)" font-size="9.45" fill="#000" text-anchor="start" font-weight="normal" font-family='"Liberation Sans", sans-serif' >2 Nov 04:00</text><text transform="translate(251,764) scale(0.98,1)" font-size="9.45" fill="#000" text-anchor="start" font-weight="normal" font-family='"Liberation Sans", sans-serif' >6 Nov 23:30</text><text transform="translate(315,764) scale(0.98,1)" font-size="9.45" fill="#000" text-anchor="start" font-weight="normal" font-family='"Liberation Sans", sans-serif' >9 Nov 14:55</text><text transform="translate(379,764) scale(0.98,1)" font-size="9.45" fill="#000" text-anchor="start" font-weight="normal" font-family='"Liberation Sans", sans-serif' >14 Nov 04:00</text><text transform="translate(443,764) scale(0.98,1)" font-size="9.45" fill="#000" text-anchor="start" font-weight="normal" font-family='"Liberation Sans", sans-serif' >18 Nov 23:30</text><text transform="translate(507,764) scale(0.98,1)" font-size="9.45" fill="#000" text-anchor="start" font-weight="normal" font-family='"Liberation Sans", sans-serif' >21 Nov 14:55</text><text transform="translate(571,764) scale(0.98,1)" font-size="9.45" fill="#000" text-anchor="start" font-weight="normal" font-family='"Liberation Sans", sans-serif' >26 Nov 04:00</text><text transform="translate(635,764) scale(0.98,1)" font-size="9.45" fill="#000" text-anchor="start" font-weight="normal" font-family='"Liberation Sans", sans-serif' >28 Nov 23:30</text><text transform="translate(699,764) scale(0.98,1)" font-size="9.45" fill="#000" text-anchor="start" font-weight="normal" font-family='"Liberation Sans", sans-serif' >3 Dec 14:55</text><text transform="translate(763,764) scale(0.98,1)" font-size="9.45" fill="#000" text-anchor="start" font-weight="normal" font-family='"Liberation Sans", sans-serif' >6 Dec 04:00</text><text transform="translate(827,764) scale(0.98,1)" font-size="9.45" fill="#000" text-anchor="start" font-weight="normal" font-family='"Liberation Sans", sans-serif' >10 Dec 23:30</text><text transform="translate(891,764) scale(0.98,1)" font-size="9.45" fill="#000" text-anchor="start" font-weight="normal" font-family='"Liberation Sans", sans-serif' >13 Dec 14:55</text><text transform="translate(955,764) scale(0.98,1)" font-size="9.45" fill="#000" text-anchor="start" font-weight="normal" font-family='"Liberation Sans", sans-serif' >18 Dec 04:00</text><text transform="translate(1019,764) scale(0.98,1)" font-size="9.45" fill="#000" text-anchor="start" font-weight="normal" font-family='"Liberation Sans", sans-serif' >20 Dec 23:30</text><text transform="translate(1083,764) scale(0.98,1)" font-size="9.45" fill="#000" text-anchor="start" font-weight="normal" font-family='"Liberation Sans", sans-serif' >25 Dec 14:55</text><text transform="translate(1147,764) scale(0.98,1)" font-size="9.45" fill="#000" text-anchor="start" font-weight="normal" font-family='"Liberation Sans", sans-serif' >28 Dec 04:00</text><text transform="translate(1211,764) scale(0.98,1)" font-size="9.45" fill="#000" text-anchor="start" font-weight="normal" font-family='"Liberation Sans", sans-serif' >2 Jan 23:30</text><text transform="translate(1275,764) scale(0.98,1)" font-size="9.45" fill="#000" text-anchor="start" font-weight="normal" font-family='"Liberation Sans", sans-serif' >7 Jan 14:55</text><text transform="translate(1339,764) scale(0.98,1)" font-size="9.45" fill="#000" text-anchor="start" font-weight="normal" font-family='"Liberation Sans", sans-serif' >10 Jan 04:00</text><text transform="translate(11,38) scale(0.98,1)" font-size="9.45" fill="#000" text-anchor="start" font-weight="normal" font-family='"Liberation Sans", sans-serif' xml:space="preserve">JPN225-,H4  20217.5 20357.5 20217.5 20345.0</text><text transform="translate(1,461) scale(0.98,1)" font-size="9.45" fill="#000" text-anchor="start" font-weight="normal" font-family='"Liberation Sans", sans-serif' >MACD(12,26,9) 76.87 114.10</text><text transform="translate(1,614) scale(0.98,1)" font-size="9.45" fill="#000" text-anchor="start" font-weight="normal" font-family='"Liberation Sans", sans-serif' >RSI(14) 60.6689</text></svg>
<svg width="1625" height="770" shape-rendering="crispEdges"><rect x="1584" y="257" width="41" height="21" fill="#ff4500"/><rect x="1584" y="281" width="41" height="11" fill="#000"/><rect x="1584" y="294" width="41" height="11" fill="#32cd32"/><rect x="1584" y="310" width="41" height="11" fill="#0000ff"/><rect x="1584" y="322" width="41" height="11" fill="#0000ff"/></svg>
<svg width="1625" height="770" shape-rendering="crispEdges"><rect x="1577" y="271" width="5" height="5" fill="#ff4500"/><rect x="1578" y="272" width="3" height="3" fill="#fff"/><rect x="1577" y="298" width="5" height="5" fill="#32cd32"/><rect x="1578" y="299" width="3" height="3" fill="#fff"/><rect x="1577" y="314" width="5" height="5" fill="#0000ff"/><rect x="1578" y="315" width="3" height="3" fill="#fff"/><rect x="1577" y="326" width="5" height="5" fill="#0000ff"/><rect x="1578" y="327" width="3" height="3" fill="#fff"/></svg>
<svg width="1625" height="770"><text transform="translate(1588,266) scale(0.98,1)" font-size="9.45" fill="#fff" font-family='"Liberation Sans", sans-serif'>20583.0</text><text transform="translate(1588,276) scale(0.98,1)" font-size="9.45" fill="#fff" font-family='"Liberation Sans", sans-serif'>20482.1</text><text transform="translate(1588,290) scale(0.98,1)" font-size="9.45" fill="#fff" font-family='"Liberation Sans", sans-serif'>20345.0</text><text transform="translate(1588,303) scale(0.98,1)" font-size="9.45" fill="#fff" font-family='"Liberation Sans", sans-serif'>20209.6</text><text transform="translate(1588,319) scale(0.98,1)" font-size="9.45" fill="#fff" font-family='"Liberation Sans", sans-serif'>20048.1</text><text transform="translate(1588,331) scale(0.98,1)" font-size="9.45" fill="#fff" font-family='"Liberation Sans", sans-serif'>19927.0</text></svg>
<svg width="1625" height="770" shape-rendering="crispEdges"><rect x="1333" y="296" width="77" height="10" fill="#00ff00"/></svg>
<div style="position:absolute;left:1104px;top:289.5px;white-space:nowrap;color:#00ff00;font-size:22px;line-height:28px;font-family:'Liberation Serif', serif;"><span style="letter-spacing:0.6px;font-weight:300">多空转折点</span><b style="font-family:'Liberation Sans', sans-serif;">20209</b></div>
<svg width="1625" height="26" style="position:absolute;left:0;top:0"><defs>
<pattern id="chk" width="2" height="2" patternUnits="userSpaceOnUse"><rect width="2" height="2" fill="#f4f4f4"/><rect width="1" height="1" fill="#fafafa"/><rect x="1" y="1" width="1" height="1" fill="#fafafa"/></pattern>
<linearGradient id="gold" x1="0" y1="0" x2="0" y2="1"><stop offset="0" stop-color="#f8e070"/><stop offset="1" stop-color="#c89010"/></linearGradient>
<linearGradient id="blu" x1="0" y1="0" x2="0" y2="1"><stop offset="0" stop-color="#40a8f8"/><stop offset="1" stop-color="#1060d0"/></linearGradient>
</defs><g shape-rendering="crispEdges"><rect x="0" y="0" width="1625" height="22" fill="#f0f0f0"/><rect x="0" y="21" width="1625" height="1" fill="#dcdcdc"/><rect x="0" y="22" width="1625" height="1" fill="#9a9a9a"/><rect x="0" y="23" width="1625" height="1" fill="#6e6e6e"/><rect x="0" y="24" width="1625" height="2" fill="#ffffff"/><rect x="218" y="0" width="24" height="20" fill="url(#chk)"/><rect x="370" y="0" width="24" height="20" fill="url(#chk)"/><rect x="398" y="0" width="24" height="20" fill="url(#chk)"/><rect x="558" y="0" width="24" height="20" fill="url(#chk)"/><rect x="1004" y="0" width="24" height="20" fill="url(#chk)"/><rect x="179" y="0" width="1" height="21" fill="#a8a8a8"/><rect x="180" y="0" width="1" height="21" fill="#ffffff"/><rect x="217" y="0" width="1" height="21" fill="#a8a8a8"/><rect x="218" y="0" width="1" height="21" fill="#ffffff"/><rect x="274" y="0" width="1" height="21" fill="#a8a8a8"/><rect x="275" y="0" width="1" height="21" fill="#ffffff"/><rect x="364" y="0" width="1" height="21" fill="#a8a8a8"/><rect x="365" y="0" width="1" height="21" fill="#ffffff"/><rect x="369" y="0" width="1" height="21" fill="#a8a8a8"/><rect x="370" y="0" width="1" height="21" fill="#ffffff"/><rect x="397" y="0" width="1" height="21" fill="#a8a8a8"/><rect x="398" y="0" width="1" height="21" fill="#ffffff"/><rect x="426" y="0" width="1" height="21" fill="#a8a8a8"/><rect x="427" y="0" width="1" height="21" fill="#ffffff"/><rect x="547" y="0" width="1" height="21" fill="#a8a8a8"/><rect x="548" y="0" width="1" height="21" fill="#ffffff"/><rect x="557" y="0" width="1" height="21" fill="#a8a8a8"/><rect x="558" y="0" width="1" height="21" fill="#ffffff"/><rect x="614" y="0" width="1" height="21" fill="#a8a8a8"/><rect x="615" y="0" width="1" height="21" fill="#ffffff"/><rect x="853" y="0" width="1" height="21" fill="#a8a8a8"/><rect x="854" y="0" width="1" height="21" fill="#ffffff"/><rect x="1003" y="0" width="1" height="21" fill="#a8a8a8"/><rect x="1004" y="0" width="1" height="21" fill="#ffffff"/><rect x="1114" y="0" width="1" height="21" fill="#a8a8a8"/><rect x="1115" y="0" width="1" height="21" fill="#ffffff"/><rect x="183" y="1" width="3" height="1" fill="#a0a0a0"/><rect x="183" y="3" width="3" height="1" fill="#a0a0a0"/><rect x="183" y="5" width="3" height="1" fill="#a0a0a0"/><rect x="183" y="7" width="3" height="1" fill="#a0a0a0"/><rect x="183" y="9" width="3" height="1" fill="#a0a0a0"/><rect x="183" y="11" width="3" height="1" fill="#a0a0a0"/><rect x="183" y="13" width="3" height="1" fill="#a0a0a0"/><rect x="183" y="15" width="3" height="1" fill="#a0a0a0"/><rect x="183" y="17" width="3" height="1" fill="#a0a0a0"/><rect x="183" y="19" width="3" height="1" fill="#a0a0a0"/><rect x="551" y="1" width="3" height="1" fill="#a0a0a0"/><rect x="551" y="3" width="3" height="1" fill="#a0a0a0"/><rect x="551" y="5" width="3" height="1" fill="#a0a0a0"/><rect x="551" y="7" width="3" height="1" fill="#a0a0a0"/><rect x="551" y="9" width="3" height="1" fill="#a0a0a0"/><rect x="551" y="11" width="3" height="1" fill="#a0a0a0"/><rect x="551" y="13" width="3" height="1" fill="#a0a0a0"/><rect x="551" y="15" width="3" height="1" fill="#a0a0a0"/><rect x="551" y="17" width="3" height="1" fill="#a0a0a0"/><rect x="551" y="19" width="3" height="1" fill="#a0a0a0"/><rect x="857" y="1" width="3" height="1" fill="#a0a0a0"/><rect x="857" y="3" width="3" height="1" fill="#a0a0a0"/><rect x="857" y="5" width="3" height="1" fill="#a0a0a0"/><rect x="857" y="7" width="3" height="1" fill="#a0a0a0"/><rect x="857" y="9" width="3" height="1" fill="#a0a0a0"/><rect x="857" y="11" width="3" height="1" fill="#a0a0a0"/><rect x="857" y="13" width="3" height="1" fill="#a0a0a0"/><rect x="857" y="15" width="3" height="1" fill="#a0a0a0"/><rect x="857" y="17" width="3" height="1" fill="#a0a0a0"/><rect x="857" y="19" width="3" height="1" fill="#a0a0a0"/><rect x="197" y="4" width="1" height="14" fill="#505050"/><rect x="195" y="15" width="14" height="1" fill="#505050"/><rect x="196" y="5" width="3" height="1" fill="#505050"/><rect x="207" y="14" width="1" height="3" fill="#505050"/><rect x="225" y="4" width="1" height="14" fill="#505050"/><rect x="223" y="15" width="14" height="1" fill="#505050"/><rect x="224" y="5" width="3" height="1" fill="#505050"/><rect x="235" y="14" width="1" height="3" fill="#505050"/><rect x="253" y="4" width="1" height="14" fill="#505050"/><rect x="251" y="15" width="14" height="1" fill="#505050"/><rect x="252" y="5" width="3" height="1" fill="#505050"/><rect x="263" y="14" width="1" height="3" fill="#505050"/><rect x="377" y="4" width="1" height="14" fill="#505050"/><rect x="375" y="15" width="14" height="1" fill="#505050"/><rect x="376" y="5" width="3" height="1" fill="#505050"/><rect x="387" y="14" width="1" height="3" fill="#505050"/><rect x="405" y="4" width="1" height="14" fill="#505050"/><rect x="403" y="15" width="14" height="1" fill="#505050"/><rect x="404" y="5" width="3" height="1" fill="#505050"/><rect x="415" y="14" width="1" height="3" fill="#505050"/><rect x="200" y="12" width="3" height="1" fill="#109010"/><rect x="202" y="6" width="1" height="7" fill="#109010"/><rect x="202" y="6" width="3" height="1" fill="#109010"/><rect x="231" y="2" width="1" height="12" fill="#006000"/><rect x="229" y="4" width="5" height="7" fill="#009000"/><rect x="230" y="5" width="3" height="5" fill="#30e030"/><polygon points="382,6 382,13 386,9.5" fill="#20b020"/><rect x="411" y="4" width="1" height="10" fill="#1060a0"/><polygon points="412,9.5 416,7 416,12" fill="#e04000"/><rect x="414" y="9" width="3" height="1" fill="#e04000"/></g><polygon points="565,3 565,16 568,13 571,18 573,17 570,12 574,12" fill="#505050"/><g shape-rendering="crispEdges"><rect x="597" y="3" width="1" height="15" fill="#505050"/><rect x="590" y="10" width="15" height="1" fill="#505050"/><rect x="597" y="10" width="1" height="1" fill="#f0f0f0"/><rect x="631" y="4" width="1" height="13" fill="#505050"/><rect x="654" y="10" width="12" height="1" fill="#505050"/><rect x="737" y="3" width="1" height="1" fill="#404040"/><rect x="739" y="3" width="1" height="1" fill="#404040"/><rect x="741" y="3" width="1" height="1" fill="#404040"/><rect x="743" y="3" width="1" height="1" fill="#404040"/><rect x="745" y="3" width="1" height="1" fill="#404040"/><rect x="747" y="3" width="1" height="1" fill="#404040"/><rect x="749" y="3" width="1" height="1" fill="#404040"/><rect x="737" y="6" width="1" height="1" fill="#404040"/><rect x="739" y="6" width="1" height="1" fill="#404040"/><rect x="741" y="6" width="1" height="1" fill="#404040"/><rect x="743" y="6" width="1" height="1" fill="#404040"/><rect x="745" y="6" width="1" height="1" fill="#404040"/><rect x="747" y="6" width="1" height="1" fill="#404040"/><rect x="749" y="6" width="1" height="1" fill="#404040"/><rect x="737" y="10" width="1" height="1" fill="#404040"/><rect x="739" y="10" width="1" height="1" fill="#404040"/><rect x="741" y="10" width="1" height="1" fill="#404040"/><rect x="743" y="10" width="1" height="1" fill="#404040"/><rect x="745" y="10" width="1" height="1" fill="#404040"/><rect x="747" y="10" width="1" height="1" fill="#404040"/><rect x="749" y="10" width="1" height="1" fill="#404040"/><rect x="737" y="14" width="1" height="1" fill="#404040"/><rect x="739" y="14" width="1" height="1" fill="#404040"/><rect x="741" y="14" width="1" height="1" fill="#404040"/><rect x="743" y="14" width="1" height="1" fill="#404040"/><rect x="745" y="14" width="1" height="1" fill="#404040"/><rect x="794" y="4" width="1" height="1" fill="#505050"/><rect x="794" y="16" width="1" height="1" fill="#505050"/><rect x="796" y="4" width="1" height="1" fill="#505050"/><rect x="796" y="16" width="1" height="1" fill="#505050"/><rect x="798" y="4" width="1" height="1" fill="#505050"/><rect x="798" y="16" width="1" height="1" fill="#505050"/><rect x="800" y="4" width="1" height="1" fill="#505050"/><rect x="800" y="16" width="1" height="1" fill="#505050"/><rect x="802" y="4" width="1" height="1" fill="#505050"/><rect x="802" y="16" width="1" height="1" fill="#505050"/><rect x="804" y="4" width="1" height="1" fill="#505050"/><rect x="804" y="16" width="1" height="1" fill="#505050"/><rect x="806" y="4" width="1" height="1" fill="#505050"/><rect x="806" y="16" width="1" height="1" fill="#505050"/><rect x="794" y="4" width="1" height="1" fill="#505050"/><rect x="806" y="4" width="1" height="1" fill="#505050"/><rect x="794" y="6" width="1" height="1" fill="#505050"/><rect x="806" y="6" width="1" height="1" fill="#505050"/><rect x="794" y="8" width="1" height="1" fill="#505050"/><rect x="806" y="8" width="1" height="1" fill="#505050"/><rect x="794" y="10" width="1" height="1" fill="#505050"/><rect x="806" y="10" width="1" height="1" fill="#505050"/><rect x="794" y="12" width="1" height="1" fill="#505050"/><rect x="806" y="12" width="1" height="1" fill="#505050"/><rect x="794" y="14" width="1" height="1" fill="#505050"/><rect x="806" y="14" width="1" height="1" fill="#505050"/><rect x="794" y="16" width="1" height="1" fill="#505050"/><rect x="806" y="16" width="1" height="1" fill="#505050"/><rect x="797" y="7" width="7" height="1" fill="#505050"/><rect x="800" y="7" width="2" height="8" fill="#505050"/><rect x="339" y="2" width="8" height="8" fill="#30a030"/><rect x="347" y="2" width="8" height="8" fill="#2060d0"/><rect x="339" y="10" width="8" height="8" fill="#2060d0"/><rect x="347" y="10" width="8" height="8" fill="#30a030"/><rect x="341" y="6" width="5" height="1" fill="#e0f0e0"/><rect x="341" y="8" width="5" height="1" fill="#e0f0e0"/><rect x="349" y="6" width="5" height="1" fill="#e0f0e0"/><rect x="349" y="8" width="5" height="1" fill="#e0f0e0"/><rect x="341" y="14" width="5" height="1" fill="#e0f0e0"/><rect x="341" y="16" width="5" height="1" fill="#e0f0e0"/><rect x="349" y="14" width="5" height="1" fill="#e0f0e0"/><rect x="349" y="16" width="5" height="1" fill="#e0f0e0"/><rect x="513" y="3" width="16" height="14" fill="#2a6ac8"/><rect x="514" y="6" width="14" height="10" fill="#ffffff"/><rect x="514" y="10" width="14" height="1" fill="#2a6ac8"/></g><polyline points="515,9 518,8 521,8.5 524,7.5 527,8" fill="none" stroke="#a02020" stroke-width="1"/><polyline points="515,14 518,13 521,14 524,12 527,14" fill="none" stroke="#209020" stroke-width="1"/><polyline points="253,13 256,9 259,7 262,9 265,11" fill="none" stroke="#20a020" stroke-width="1"/><line x1="682" y1="16.5" x2="694" y2="4.5" stroke="#505050" stroke-width="1"/><line x1="708" y1="13" x2="716" y2="5" stroke="#404040" stroke-width="1.2"/><line x1="710" y1="17" x2="721" y2="6" stroke="#404040" stroke-width="1.2"/><line x1="713" y1="15" x2="720" y2="2" stroke="#404040" stroke-width="1"/><text x="719" y="18.5" font-size="6.5" font-weight="bold" font-family='"Liberation Sans", sans-serif' fill="#404040">E</text><text x="746" y="18.5" font-size="6.5" font-weight="bold" font-family='"Liberation Sans", sans-serif' fill="#404040">F</text><text x="767.5" y="15" font-size="11" font-family='"Liberation Sans", sans-serif' fill="#505050">A</text><polygon points="821,8 825,4 829,8" fill="#505050"/><polyline points="823,11 826,14 831,9" fill="none" stroke="#505050" stroke-width="1.5"/><polygon points="827,12 831,17 835,12" fill="#505050"/><polygon points="458,9 463.5,9 460.75,12" fill="#000"/><polygon points="497,9 502.5,9 499.75,12" fill="#000"/><polygon points="536,9 541.5,9 538.75,12" fill="#000"/><polygon points="842,9 847.5,9 844.75,12" fill="#000"/><line x1="293" y1="11" x2="298.5" y2="16.5" stroke="#9a7a00" stroke-width="3.4"/><line x1="293" y1="11" x2="298.5" y2="16.5" stroke="#e8d060" stroke-width="2"/><circle cx="289" cy="7.2" r="5.2" fill="#d8f0fa" stroke="#3a7cc8" stroke-width="1.2"/><rect x="286" y="6.5" width="6" height="2" fill="#3a78a8"/><rect x="288" y="4.5" width="2" height="6" fill="#3a78a8"/><line x1="321" y1="11" x2="326.5" y2="16.5" stroke="#9a7a00" stroke-width="3.4"/><line x1="321" y1="11" x2="326.5" y2="16.5" stroke="#e8d060" stroke-width="2"/><circle cx="317" cy="7.2" r="5.2" fill="#d8f0fa" stroke="#3a7cc8" stroke-width="1.2"/><rect x="314" y="6.5" width="6" height="2" fill="#3a78a8"/><path d="M436,3 H444 L447,6 V15 H436 Z" fill="#f4f4f4" stroke="#707070" stroke-width="1"/><path d="M441,9 h3 v3 h3 v3 h-3 v3 h-3 v-3 h-3 v-3 h3 z" fill="#30d030" stroke="#109010" stroke-width="0.8"/><circle cx="482" cy="10" r="7" fill="#1a6ad8"/><circle cx="482" cy="10" r="5" fill="#f0f8ff"/><path d="M482,6 V10 H485" fill="none" stroke="#202020" stroke-width="1"/><path d="M25.5,3.5 L35.5,10 L35.5,12.5 L27.5,18 L20,12 Q22,10 25.5,3.5 Z" fill="url(#gold)" stroke="#9a6010" stroke-width="1"/><polyline points="21,12 27.5,16.5 34.5,11.5" fill="none" stroke="#f4e4a0" stroke-width="1"/><rect x="50" y="2.5" width="11" height="9" fill="#1a94f0" stroke="#1070d0" stroke-width="0.8"/><path d="M51,3 L54,6 V11" fill="none" stroke="#e0f4ff" stroke-width="0.8"/><rect x="55" y="7" width="5" height="1" fill="#e0f4ff"/><path d="M48.5,17.5 Q48,13.5 51,13.5 Q52,11 55,11.5 Q57,9.5 59.5,12 Q63.5,12 63.5,15 Q64,17.5 61,17.5 Z" fill="#e4eaf4" stroke="#4a6aa0" stroke-width="1"/><circle cx="84" cy="10" r="7.5" fill="none" stroke="#7aa0d8" stroke-width="1"/><circle cx="84" cy="10" r="5" fill="none" stroke="#5080d0" stroke-width="1"/><circle cx="84" cy="10" r="2" fill="#3060c0"/><path d="M84,10 V17" stroke="#20a020" stroke-width="1.5"/><path d="M84,17 A7,7 0 0 0 91,10" fill="none" stroke="#60b060" stroke-width="1.5"/><path d="M104,9.5 L118,9.5 L111,17.5 Z" fill="#f4dc50" stroke="#c89a10" stroke-width="0.8"/><ellipse cx="111" cy="7" rx="7.5" ry="2.3" fill="#5ab0e0" stroke="#2a80b0" stroke-width="0.8"/><path d="M107,6.5 Q107.5,2 110.5,2 Q113.5,2 114,6.5 Z" fill="#70c0ec" stroke="#2a80b0" stroke-width="0.8"/><circle cx="115.4" cy="13.4" r="4.2" fill="#e02010"/><rect x="114" y="12" width="3" height="3" fill="#fff"/><circle cx="1584.5" cy="7.3" r="3.8" fill="#f4f4ff" stroke="#2060d0" stroke-width="1.3"/><line x1="1581.5" y1="10.5" x2="1577.5" y2="14.5" stroke="#2050c0" stroke-width="2.2"/><path d="M1619,11 L1621,14 L1617,11 Z" fill="#606060"/><ellipse cx="1617" cy="7" rx="6" ry="4.5" fill="#e8e8ee" stroke="#808080" stroke-width="1"/><path d="M1606,14 L1605,16.5 L1609,14 Z" fill="#606060"/><ellipse cx="1608" cy="11" rx="5.5" ry="3.8" fill="#ececf2" stroke="#808080" stroke-width="1"/><text x="-4" y="14" font-size="12" fill="#000" font-family='"Liberation Sans", sans-serif'>单</text><text x="124.5" y="13.2" font-size="11.8" fill="#000" font-family='"Liberation Sans", sans-serif'>自动交易</text><text x="868.5" y="14.2" font-size="9.6" fill="#333" font-family='"Liberation Sans", sans-serif'>M1</text><text x="896.5" y="14.2" font-size="9.6" fill="#333" font-family='"Liberation Sans", sans-serif'>M5</text><text x="922.3" y="14.2" font-size="9.6" fill="#333" font-family='"Liberation Sans", sans-serif'>M15</text><text x="950.5" y="14.2" font-size="9.6" fill="#333" font-family='"Liberation Sans", sans-serif'>M30</text><text x="981.6" y="14.2" font-size="9.6" fill="#333" font-family='"Liberation Sans", sans-serif'>H1</text><text x="1008" y="14.2" font-size="9.6" fill="#333" font-family='"Liberation Sans", sans-serif'>H4</text><text x="1037.4" y="14.2" font-size="9.6" fill="#333" font-family='"Liberation Sans", sans-serif'>D1</text><text x="1064.6" y="14.2" font-size="9.6" fill="#333" font-family='"Liberation Sans", sans-serif'>W1</text><text x="1091.2" y="14.2" font-size="9.6" fill="#333" font-family='"Liberation Sans", sans-serif'>MN</text></svg>
<svg width="220" height="112" style="position:absolute;left:0;top:0">
<defs>
<linearGradient id="rg" x1="0" y1="46" x2="0" y2="110" gradientUnits="userSpaceOnUse">
<stop offset="0" stop-color="#f85a5a"/><stop offset="0.38" stop-color="#e03434"/><stop offset="1" stop-color="#b00000"/>
</linearGradient>
</defs>
<g shape-rendering="crispEdges">
<path d="M0,46 H51 V70 H108 V110 H0 Z" fill="url(#rg)"/>
<path d="M166,46 H218 V110 H110 V70 H166 Z" fill="url(#rg)"/>
<path d="M0,46.5 H50.5 V70.5 H107.5 V109.5" fill="none" stroke="#b00000" stroke-width="1"/>
<path d="M166.5,70.5 V46.5 H217.5 V109.5 M110.5,70.5 H166.5 M110.5,70.5 V109.5" fill="none" stroke="#b00000" stroke-width="1"/>
<rect x="3" y="69" width="44" height="1" fill="#8a0000"/><rect x="3" y="70" width="44" height="1" fill="#f07070"/>
<rect x="170" y="69" width="44" height="1" fill="#8a0000"/><rect x="170" y="70" width="44" height="1" fill="#f07070"/>
<rect x="53" y="46" width="111" height="22" fill="#b4b4b4"/>
<rect x="54" y="47" width="20" height="20" fill="#e6e6e6"/>
<rect x="75" y="47" width="67" height="20" fill="#ffffff"/>
<rect x="143" y="47" width="20" height="20" fill="#e6e6e6"/>
</g>
<polygon points="61,55 66,55 63.5,58" fill="#000"/>
<polygon points="150,58 155,58 152.5,55" fill="#000"/>
<text x="138.6" y="61" font-size="12" text-anchor="end" font-family='"Liberation Sans", sans-serif' fill="#000">0.10</text>
<text x="11" y="61.5" font-size="11.2" textLength="25.6" lengthAdjust="spacingAndGlyphs" font-family='"Liberation Sans", sans-serif' fill="#ffe4e4">SELL</text>
<text x="179.5" y="61.8" font-size="11.2" textLength="23.2" lengthAdjust="spacingAndGlyphs" font-family='"Liberation Sans", sans-serif' fill="#ffe4e4">BUY</text>
<text x="15" y="101.2" font-size="12.5" font-weight="bold" font-family='"Liberation Sans", sans-serif' fill="#fff">20343</text>
<text x="51.5" y="101.5" font-size="34.5" font-family='"Liberation Sans", sans-serif' fill="#fff">.</text>
<text transform="translate(60.4,101.5) scale(0.9,1)" font-size="34.5" font-family='"Liberation Sans", sans-serif' fill="#fff">5</text>
<text x="125.3" y="101.2" font-size="12.5" font-weight="bold" font-family='"Liberation Sans", sans-serif' fill="#fff">20366</text>
<text x="162.5" y="101.5" font-size="34.5" font-family='"Liberation Sans", sans-serif' fill="#fff">.</text>
<text transform="translate(171.3,101.5) scale(0.9,1)" font-size="34.5" font-family='"Liberation Sans", sans-serif' fill="#fff">5</text>
</svg>
</body></html>
